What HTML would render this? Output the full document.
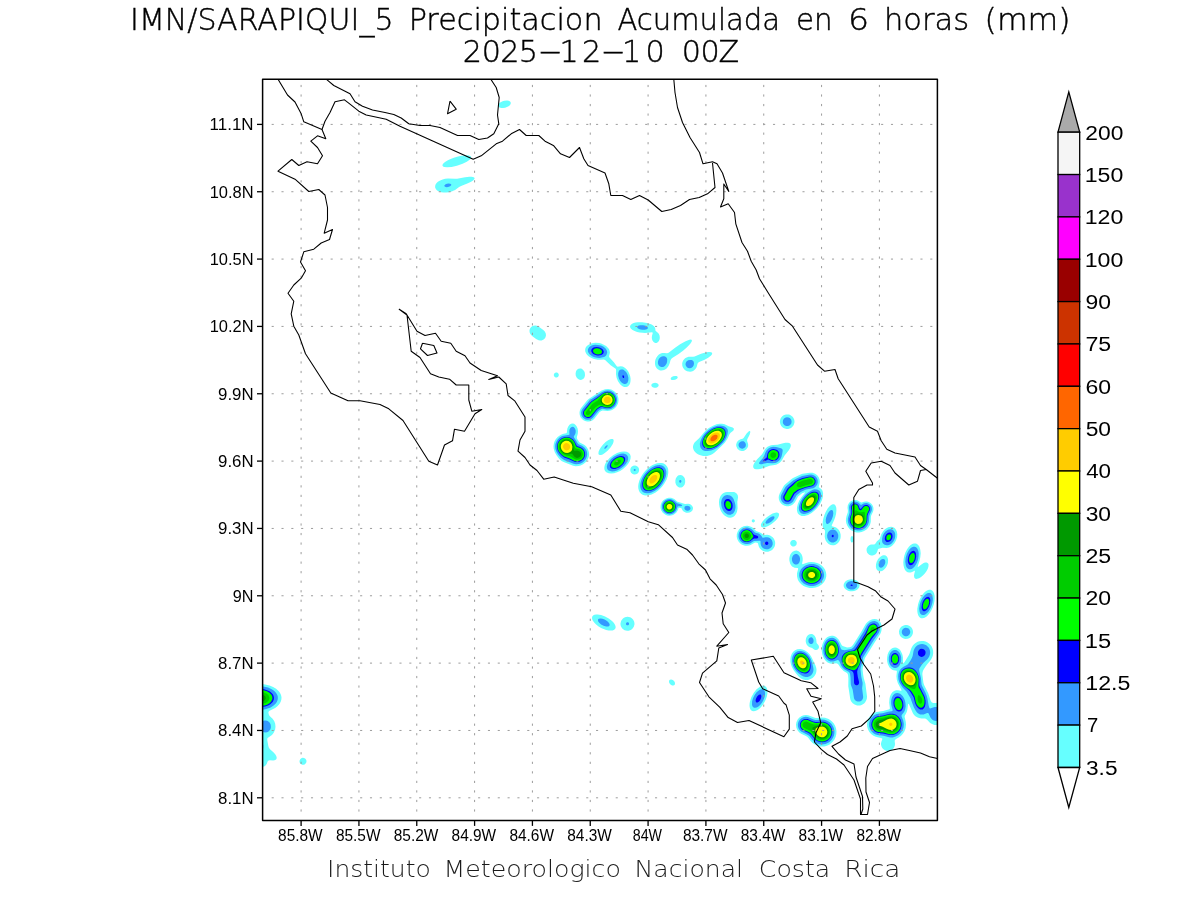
<!DOCTYPE html>
<html><head><meta charset="utf-8"><title>IMN/SARAPIQUI_5 Precipitacion Acumulada en 6 horas (mm)</title>
<style>
html,body{margin:0;padding:0;background:#fff;}
svg{display:block;font-family:"Liberation Sans",sans-serif;will-change:transform;}
.thin{font-family:"DejaVu Sans Light","DejaVu Sans","Liberation Sans",sans-serif;font-weight:200;stroke:#000;stroke-width:0.42px;}
.ti{font-size:30.2px;fill:#000;}
.ft{font-family:"DejaVu Sans Light","DejaVu Sans","Liberation Sans",sans-serif;font-weight:200;font-size:23.2px;fill:#1a1a1a;}
.ax{font-size:16px;fill:#000;}
.cb{font-size:19.4px;fill:#000;}
</style></head><body>
<svg width="1200" height="900" viewBox="0 0 1200 900">
<rect width="1200" height="900" fill="#fff"/>
<defs><clipPath id="fr"><rect x="262.6" y="79.25" width="674.8" height="741.2"/></clipPath></defs>
<g clip-path="url(#fr)">
<g id="shade">
<path fill="#66ffff" d="M504.3,100.8 507.1,100.5 508.6,100.8 509.7,101.2 510.3,101.8 510.8,102.8 510.7,103.8 510.2,104.8 509.3,105.8 508.1,106.6 505.1,107.8 503.1,108.1 501.6,108 500.2,107.8 499.1,107.2 498.6,106.7 498.2,105.8 498.3,104.8 498.8,103.8 499.8,102.8 501.1,101.9 502.6,101.2ZM461.5,155.8 466.1,155.3 469.1,155.6 470.7,156.2 471.1,156.8 471.1,157.8 470.6,158.8 469.6,159.8 466.8,161.8 462.6,163.8 456.9,165.8 451.6,166.9 447.1,167.3 444.1,166.9 443.1,166.5 442.5,165.8 442.5,164.8 443.5,163.2 445.4,161.8 447.9,160.2 451.2,158.8 454.6,157.5 458.1,156.5ZM469.3,176.8 471.6,176.8 473.6,177.2 474.4,177.8 474.6,178.2 474.5,178.8 473.4,180.2 471.1,181.7 467.9,183.2 461.1,185.9 459.1,187 455.1,190 451.6,191.6 449.1,192.2 446.1,192.6 443.6,192.6 441.1,192.2 439.1,191.5 437.1,190.4 436,189.2 435.2,187.8 435.1,186.8 435.3,185.2 435.7,184.2 436.6,183 437.6,182 439.1,181 442.6,179.4 445.1,178.7 448.1,178.4 455.1,178.8 457.1,178.7 465.1,177.2ZM637.7,322.2 642.1,322.2 647.1,322.9 651.1,324.3 652.8,325.2 654,326.2 654.8,327.2 655.2,328.2 655.5,330.8 658.4,333.2 659.1,334.4 659.6,335.7 659.8,337.8 659.6,339.2 659,340.7 658.1,342 656.6,342.9 655.1,342.9 653.6,342.1 652.6,340.8 652,339.2 651.8,337.8 652,335.8 652.7,333.2 652.7,332.8 652.1,332.3 645.1,332.9 642.6,332.8 639.6,332.5 637.1,331.9 634.6,331 632.6,330 631,328.8 630.3,327.8 630,326.8 630.2,325.8 630.9,324.8 632.1,323.8 633.6,323.1 635.6,322.6ZM533.4,325.8 535.6,325.5 537.6,326.1 539.1,326.9 543,329.8 544.6,331.2 545.7,333.2 546,335.2 545.5,337.2 544.9,338.2 544,339.2 543.1,339.8 541.6,340.4 540.1,340.5 538.6,340.2 536.1,338.9 532.1,335.9 530.9,334.8 530.1,333.5 529.6,332.3 529.5,330.8 529.6,329.8 530.2,328.2 531,327.2 532.1,326.3ZM689.4,339.8 691.1,339.6 691.6,339.9 691.9,340.2 691.9,340.8 691.6,341.8 690.3,343.8 687,347.2 683,350.8 678.6,354 672.6,357.8 671.4,358.8 670.5,360.2 669.7,363.2 668.9,365.2 668,366.8 666.6,368.4 665.5,369.2 664.1,370 661.6,370.5 660.1,370.4 659.1,370 657.8,369.2 656.7,368.2 655.7,366.8 655.2,365.2 655,363.8 655,361.8 655.4,359.8 656.3,357.8 657.3,356.2 658.6,354.8 660.1,353.8 662.1,353 664.1,352.9 667.1,353.2 668.6,352.8 675.1,347.7 680.1,344.2 685.6,341.2ZM592.1,343.2 595.6,342.8 599.1,343.1 601.1,343.6 603.1,344.4 606.1,346.1 608.3,348.2 609,349.2 609.6,350.8 609.9,352.8 609,356.2 609.3,357.2 613.9,362.2 616.6,366.1 617.6,366.8 620.6,366.3 622.6,366.5 623.6,366.9 625.1,367.9 627,369.8 628.4,371.8 629.3,373.8 630.2,376.2 630.6,378.8 630.5,381.2 630.1,383.2 629.4,384.8 628.1,386.2 627.1,386.8 626.1,387.1 624.1,386.9 622.1,386 620.1,384.2 618,381.2 616.6,377.8 616,374.2 616.1,369.8 615.7,368.8 610.6,365.3 605.1,359.9 603.6,359.4 600.1,359.7 597.6,359.7 594.1,359 592.1,358.3 590.1,357.3 588.6,356.2 587,354.8 586,353.2 585.2,351.2 585.2,349.2 585.6,347.7 586.6,346.2 588.1,344.9 590.1,343.9ZM706.4,352.2 709.1,352 711.1,352.2 712,352.8 712.2,353.8 711.7,354.8 710.8,355.8 708.2,357.8 704.6,359.8 699.1,362 698.1,362.8 697.5,363.8 696.9,366.2 696.3,367.8 695.2,369.2 694.1,370.3 693.1,370.9 691.6,371.5 690.1,371.7 688.6,371.6 687.1,371.2 685.6,370.5 684.6,369.7 683.6,368.6 682.8,367.2 682.3,365.8 682.2,363.2 682.6,361.8 683.3,360.2 685.1,358.2 686.6,357.4 688.6,356.7 693.1,356.7 694.6,356.4 701.1,353.7ZM578.4,368.8 580.1,368.4 581.1,368.6 582.1,369 583.6,370.4 584.2,371.2 584.8,372.8 585,375.2 584.5,377.2 583.9,378.2 583.1,379.1 581.6,379.8 580.6,380 579.6,379.8 578.1,379.1 576.8,377.8 575.8,375.8 575.6,373.8 575.9,371.8 576.3,370.8 577,369.8ZM555.2,372.8 556.1,372.5 557.1,372.6 558.1,373.2 558.6,374 558.8,374.8 558.7,375.8 558.1,376.7 557.4,377.2 556.6,377.5 555.6,377.4 554.6,376.8 554.1,376.2 553.8,375.2 553.9,374.2 554.5,373.2ZM673.1,376.2 675.1,375.9 676.6,376 677.6,376.8 677.7,377.8 677,378.8 675.1,379.8 673.1,380.1 671.6,379.9 670.8,379.2 670.7,378.2 671.4,377.2ZM652.9,383.2 654.1,382.9 655.1,382.8 657.1,383.2 658.1,384 658.6,384.8 658.6,385.8 658.4,386.2 657.3,387.2 656.1,387.7 654.3,387.8 652.7,387.2 651.6,386.2 651.3,385.2 651.6,384.2ZM605.1,389.2 608.1,389 611.1,389.6 612.6,390.2 614.1,391.2 615.4,392.2 616.6,393.8 617.5,395.2 618,396.8 618.4,398.2 618.5,400.2 618.3,402.2 617.9,403.8 616.6,406.2 615.3,407.8 614.1,408.8 612.1,410 610.6,410.6 607.6,411 602.6,410.5 600.8,411.2 599.6,412.1 594.1,418.9 592.6,420.2 591.1,420.9 589.1,421.4 587.1,421.5 585.1,421 583.1,420 582.1,419.1 580.9,417.8 580.1,416.2 579.7,414.7 579.5,412.8 579.7,411.2 580.1,409.8 580.9,408.2 587.3,400.2 588.6,398.9 596.6,393.7 601.6,390.6 603.1,389.9ZM785,414.8 786.1,414.5 787.6,414.4 789.1,414.6 790.6,415.2 792.6,416.8 793.3,417.8 794.1,419.2 794.4,420.8 794.5,422.2 793.8,424.8 793.1,426 792.1,427.1 791.1,427.9 789.6,428.6 788.1,428.9 786.6,429 784.1,428.3 783.1,427.7 781.9,426.8 781.1,425.7 780.4,424.2 780,422.8 779.9,421.2 780.2,419.8 780.6,418.6 781.4,417.2 782.3,416.2 783.6,415.3ZM571.1,423.8 572.6,423.5 574.1,423.8 575.6,424.9 576.6,426.2 577.7,428.8 578,431.2 577.8,433.8 576.8,437.2 577.1,438.8 579.3,442.2 580.1,442.8 583.6,444.4 585.1,445.5 586.4,446.8 588,449.2 588.9,452.2 589.1,454.7 588.8,456.8 587.8,459.2 586.6,461.2 585.1,462.8 583.1,464.3 580.6,465.5 578.6,466 575.6,466.2 573.1,465.7 563.6,462.1 561.6,461 559.1,458.7 556.5,455.2 554.8,452.2 553.7,448.8 553.5,446.2 553.8,443.7 554.4,441.8 555.7,439.2 557.6,437 560.1,435.2 562.6,434.1 566.1,433.3 566.6,432.9 566.9,432.2 567.3,428.8 568.1,426.8 569.5,424.8ZM719.7,423.8 722.1,423.7 724.6,424.3 728.6,426.2 732.6,427.5 733.6,428.2 733.9,428.8 733.8,429.8 733.2,430.8 730.6,432.7 729.6,433.9 727.5,438.8 724.8,442.8 721.6,446.1 714.6,452.6 712.6,454 710.6,455 707.1,455.9 705.1,456 703.1,455.9 699.6,455 697.9,454.2 696.4,453.2 695.1,452.1 694.1,450.8 693.4,449.2 693,447.8 693,446.2 693.4,444.8 694.1,443.2 694.8,442.2 699.1,438.3 704.6,431.8 708.1,428.6 710.6,426.9 713.6,425.4 716.6,424.3ZM748.9,431.2 749.6,430.9 750.1,431 750.3,432.2 749.6,434.8 747.3,439.2 747.1,440.2 747.2,441.2 747.9,443.2 748.2,444.8 748.1,446.2 747.5,447.8 746.1,449.6 744.1,450.7 743.1,450.9 741.6,451 739.6,450.4 738.6,449.8 737.6,448.9 736.5,446.8 736.2,445.8 736.2,444.2 736.9,442.2 738,440.8 739.1,439.9 740.6,439.2 742.6,438.7 743.6,438.1 746.6,433.6 747.6,432.4ZM610.2,439.2 611.6,438.9 612.6,439 613.1,439.3 613.5,439.8 613.7,440.8 613.4,442.2 612.9,443.8 610.7,447.2 607.6,450.8 604.1,453.6 602.6,454.4 601.1,455 600.1,455.1 598.9,454.8 598.4,453.8 598.6,451.8 599.4,449.8 600.9,447.2 603.1,444.5 605.6,442.1 608.1,440.3ZM785.4,442.8 788.1,442.8 789.1,443 790.1,443.6 790.8,444.8 790.8,445.8 790.6,446.8 790,448.2 788.8,450.2 784.6,455.4 781.9,460.2 780.7,461.8 779.6,462.8 778.1,463.8 776.1,464.7 774.6,465 769.6,465.7 763.6,468 760.1,469 758.1,469.3 756.1,469.3 754.6,468.9 753.8,468.2 753.2,467.2 753.2,465.8 753.7,464.2 754.5,462.8 757.2,459.2 762.1,454.2 765,449.2 767.1,447.1 769.1,445.9 771.1,445.2 773.1,444.9 777.6,444.7 783.1,443.2ZM621.1,451.8 624.1,451.4 626.6,451.8 628.6,452.7 630,454.2 630.7,456.2 630.5,458.8 629.7,461.2 628.2,463.8 626.1,466.3 623.1,468.9 620.1,470.9 617.1,472.3 614.1,473.2 611.1,473.6 608.6,473.3 606.3,472.2 605.3,471.2 604.7,470.2 604.4,469.2 604.3,467.8 604.5,466.2 604.9,464.8 605.8,462.8 606.8,461.2 609.6,458 613.1,455.2 617.1,453ZM657.2,463.2 660.1,462.9 661.6,463 663.1,463.3 664.6,464 665.6,464.7 667.2,466.8 667.9,468.2 668.2,469.8 668.3,472.8 667.7,476.2 666.5,479.8 664.2,483.8 662,486.8 659.1,489.7 655.6,492.4 651.6,494.5 648.6,495.3 645.6,495.5 644.1,495.3 642.6,494.7 641.1,493.8 639.7,492.2 638.8,490.2 638.3,488.2 638.2,486.2 638.5,483.8 639.3,480.8 640.3,478.2 641.7,475.7 643.3,473.2 645.4,470.8 647.6,468.6 650.1,466.6 652.6,465 655.1,463.9ZM633.2,465.8 635.1,465.5 636.6,465.9 638.1,467.1 639,468.8 639.1,470.8 638.6,472.2 637.6,473.4 636.1,474.3 634.1,474.5 632.6,474 631.1,472.8 630.4,471.2 630.3,469.2 630.8,467.8 631.6,466.7ZM809.8,472.7 812.6,472.8 815.1,473.7 817.2,475.2 818.7,477.2 819.5,479.2 819.8,481.8 819.5,483.8 818.7,486.8 818.9,487.2 821.5,489.2 822.5,490.8 823.1,493.2 822.9,496.8 821.9,500.2 819.9,504.2 817.3,507.8 814.6,510.6 811.6,513 808.1,515 804.6,516 803.1,516.1 801.6,515.9 799.6,515.1 798.6,514.3 797.8,513.2 797.4,512.2 797,510.8 796.9,509.2 797,507.2 797.9,503.8 799.2,500.8 801.4,497.2 805,492.8 805.1,492.3 802.1,493.3 798.1,496.5 794.9,502.2 793.1,504.2 791.1,505.5 788.6,506.2 786.6,506.3 784.6,505.8 782.6,504.8 781.1,503.5 779.8,501.8 779,499.8 778.7,497.7 778.9,495.8 779.8,493.2 783.9,485.8 785.1,484.5 791.6,479 793.1,478.1 801.1,474.2 802.6,473.8ZM678.9,475.2 680.6,475 681.6,475.2 682.7,475.8 684.1,477.2 684.7,478.2 685.1,479.8 685.2,482.2 684.5,484.8 683.1,486.5 682.1,487.2 681.1,487.5 680.1,487.6 679.1,487.4 677.6,486.6 676.8,485.8 676.1,484.8 675.4,482.8 675.4,480.2 675.9,478.2 677.1,476.5 678.1,475.6ZM725.4,492.2 727.1,492 732.1,491.9 734.1,492.1 735.6,492.7 736.6,493.5 737.5,494.8 737.9,495.8 738,497.8 737.3,501.8 737.6,508.2 737,511.8 736.1,513.8 734.7,515.8 733.1,517 731.6,517.6 730.1,517.8 728.1,517.5 726.1,516.6 724.2,515.2 722.8,513.8 721.4,511.8 720.2,509.2 719.5,506.8 719.1,504.2 719,501.8 719.3,499.2 720,497.2 720.7,495.8 722.1,494 723.6,492.9ZM668.6,497.8 671.1,497.8 673.1,498.4 674.6,499.3 677.1,501.6 678.1,502.1 681.1,502.8 684.1,503.8 685.1,503.9 688.1,503.8 689.6,504.1 690.6,504.6 692,505.8 692.9,507.2 693,508.8 692.5,510.2 691.1,511.7 689.6,512.5 687.6,512.8 686.1,512.7 684.6,512.1 683.3,511.2 682.5,510.2 681.5,508.2 680.6,507.9 679.1,507.8 678.5,508.2 677.5,510.7 676.2,512.8 674.6,514.1 673.1,515 671.1,515.6 669.1,515.7 667.1,515.4 665.1,514.6 662.8,512.8 661.2,510.2 660.7,508.7 660.5,507.2 660.7,504.8 661.7,502.2 662.6,500.9 663.6,499.9 666.1,498.4ZM853.1,500.2 855.1,500 857.1,500.3 858.6,500.9 861.1,502.6 861.6,502.6 864.1,501.7 865.6,501.5 867.1,501.6 868.6,502 870.1,502.7 871.6,504 872.8,505.8 873.3,507.2 873.5,508.7 873.4,510.2 873,511.8 871.1,515.8 870.9,517.2 870.8,521.8 870.3,523.8 869.8,525.2 868.2,527.8 866.6,529.4 864.1,531.1 861.6,532.1 859.1,532.5 856.6,532.4 854.6,531.9 852.1,530.8 850.1,529.4 848.6,527.8 847.3,525.8 846.3,523.2 845.9,520.8 846,518.8 846.5,516.2 847.8,512.2 847.9,510.8 847.5,507.8 847.8,505.2 848.5,503.8 849.6,502.2 851.1,501.1ZM832.7,504.2 833.6,504.2 834.6,504.6 835.6,505.7 836.3,507.8 836.4,510.8 836,514.2 835.2,517.2 834.1,520.2 832,524.8 831.7,525.8 832.1,526.3 834.6,527 836.1,527.6 838.2,529.2 839.3,530.8 840,532.2 840.6,534.2 840.7,536.2 840.5,538.2 840,539.8 839.3,541.2 838.2,542.8 837.1,543.8 835.6,544.7 834.1,545.2 832.6,545.3 830.6,545 828.6,544 827.1,542.6 825.8,540.8 825.1,538.8 824.7,536.8 825.1,530.8 823.6,528.7 823.1,527.8 822.7,526.2 822.6,524.2 822.8,521.2 823.4,518.2 824.5,514.8 825.8,511.8 827.5,508.8 829.1,506.7 831.1,504.9ZM775.2,512.8 776.6,512.6 777.8,512.8 778.7,513.2 779.1,514.2 778.9,515.8 778.3,517.2 777.3,518.8 775.5,520.8 771.6,524 769.1,525.6 767.1,526.5 765.1,527.2 763.6,527.4 762.1,527.2 761.3,526.8 760.9,525.8 760.9,524.8 761.2,523.8 762.4,521.8 764.5,519.2 767.1,516.9 770.1,514.9 772.6,513.6ZM753,519.2 754.1,519.4 754.8,520.2 754.8,521.2 754.6,521.7 753.6,522.4 752.6,522.2 752,521.8 751.8,521.2 751.8,520.2 752.1,519.8ZM743.7,526.2 745.1,525.9 747.1,525.8 748.6,526 750.1,526.4 751.6,527.1 753.1,528.1 756.1,531.1 760.1,532.5 763.6,534.8 764.6,534.9 767.1,534.8 768.6,535 770.1,535.5 771.6,536.4 772.7,537.2 773.9,538.8 774.6,540.2 775.1,541.8 775.2,543.2 775,545.2 774.5,546.8 773.6,548.2 772.1,549.9 770.1,551.1 768.1,551.7 765.6,551.7 763.1,551 761.6,550.1 760.6,549.2 759.8,548.2 758.9,546.8 757.9,543.2 757.1,542.8 755.6,542.6 754.6,542.7 750.6,545 749.1,545.5 747.1,545.8 745.1,545.7 743.6,545.3 742.1,544.7 740.6,543.8 738.7,541.8 737.3,539.2 736.7,536.8 736.8,534.2 737.6,531.8 739.1,529.2 741.1,527.5ZM888.2,527.2 889.6,526.9 891.1,526.8 892.6,527 893.6,527.5 894.6,528.1 895.6,529.2 896.7,531.2 897.3,534.2 897.1,537.2 896.1,540.2 894.4,543.2 892.1,545.7 890.6,546.7 889.1,547.4 886.6,547.9 882.6,547.8 878.6,548.7 878,549.2 877.2,551.8 876.4,553.2 875.5,554.2 874.1,555.1 872.6,555.5 871.1,555.4 869.6,554.9 868.6,554.3 867.2,552.8 866.6,550.8 866.6,548.8 867.6,546.8 868.6,545.7 870.1,544.8 871.6,544.5 874.1,544.5 875.1,544.1 877,541.2 879.1,539.6 879.6,539 881.3,534.2 883.1,531.2 884.4,529.8 885.6,528.7ZM851.4,536.2 852.1,536 852.6,536.2 853.2,537.2 853.6,538.8 853.5,540.2 853.3,541.2 852.7,542.2 852.1,542.6 851.6,542.5 851.1,542 850.5,540.2 850.6,537.8 851,536.8ZM792,540.2 793.1,539.9 794.6,540.1 795.7,540.8 796.5,541.8 796.8,542.8 796.6,544.2 796.1,545.2 795.1,546.1 794.1,546.5 792.6,546.4 791.4,545.8 790.6,544.8 790.2,543.8 790.3,542.2 791.1,540.9ZM912.8,543.8 914.1,543.4 915.6,543.4 916.6,543.8 917.6,544.4 918.6,545.5 919.4,546.8 920.3,549.8 920.7,553.2 920.3,557.2 919.4,561.2 917.6,566.8 918.1,566.9 922.1,564 923.6,563.1 925.1,562.6 926.6,562.6 927.6,562.9 928.3,563.8 928.6,564.8 928.4,566.8 927.8,568.8 926.6,571 925,573.2 923.1,575.3 921.1,577 919.1,578.2 917.1,578.8 916.1,578.9 915.1,578.5 914.6,578.1 914.2,577.2 914,575.2 915,570.8 914.6,570.7 912.1,572 910.6,572.5 909.1,572.6 907.6,572.3 906.1,571.3 904.9,569.8 904.1,567.8 903.5,565.2 903.3,562.2 903.7,558.8 904.3,555.8 905.5,552.2 907.1,549.2 908.9,546.8 910.6,545.1ZM794.8,550.8 796.6,550.6 798.6,551.3 800.1,552.4 801.5,554.2 802.3,556.2 802.7,558.2 802.7,560.2 802.1,563.8 802.6,564.2 806.1,562.9 808.6,562.3 811.1,562 814.1,562.2 817.1,562.9 819.6,564.1 821.9,565.8 823.8,567.8 825.1,569.8 826,572.2 826.3,574.8 826.2,576.8 825.5,579.2 824.5,581.2 823,583.2 821.3,584.8 818.6,586.4 815.6,587.5 812.6,588 809.6,587.9 806.1,587.1 803.6,585.9 801.3,584.2 799.4,582.2 798.4,580.8 797.7,579.2 797,576.2 797,573.2 798.1,569.2 798.1,568.3 797.6,568.1 794.6,567.8 793.1,567.1 792.1,566.4 791.1,565.2 790.2,563.8 789.4,560.8 789.3,558.8 789.5,557.2 789.9,555.8 790.5,554.2 791.6,552.8 792.6,551.8 793.6,551.2ZM881.9,555.8 883.1,555.3 884.6,555.3 885.6,555.6 886.6,556.3 887.3,557.2 887.9,558.8 888.1,560.2 888,562.2 887.7,563.8 886.9,565.8 886.1,567.2 884.9,568.8 883.6,570 882.1,570.9 880.6,571.3 879.6,571.3 878,570.8 877.1,570 876.6,569.2 876.2,568.2 875.9,566.8 876,564.2 876.7,561.8 878.1,559.1 880.1,556.9ZM848.6,579.8 851.1,579.3 853.6,579.5 856.1,580.3 858.1,581.8 859.1,583.2 859.6,585.2 859.2,587.2 858.1,588.8 857.1,589.7 855.6,590.5 854.1,591 852.1,591.3 850.1,591.2 848.6,590.9 847.1,590.3 845.6,589.2 844.6,588.2 843.8,586.8 843.6,585.2 843.9,583.8 844.6,582.4 845.6,581.3 847.1,580.3ZM929,589.8 930.6,589.8 932.1,590.4 933.3,591.8 934.1,593.5 934.6,595.8 934.7,598.2 934.4,601.2 933.8,604.2 932.8,607.2 931.4,610.2 929.9,612.8 928.1,615 926.6,616.5 924.6,617.7 922.6,618.3 921.1,618.2 920.1,617.7 919.1,616.8 918.2,615.2 917.6,613.2 917.3,611.2 917.3,608.8 918.2,603.8 919.2,600.8 920.3,598.2 922.8,594.2 924.6,592.3 926.1,591 927.6,590.2ZM594.5,614.8 596.1,614.5 597.6,614.4 601.1,615 605.1,616.5 609.1,618.7 612.3,621.2 613.7,622.8 614.7,624.2 615.4,625.8 615.6,626.8 615.6,627.8 615.2,628.8 614.2,629.8 612.6,630.4 610.6,630.6 608.6,630.4 606.1,629.9 603.6,629 601.1,627.9 598.6,626.4 596.4,624.8 594.4,622.8 592.9,620.8 592.2,619.2 592,617.8 592.4,616.2 593.4,615.2ZM625,617.2 626.1,616.9 627.6,616.8 630.1,617.3 631.1,617.8 632.3,618.8 633.2,619.8 634,621.2 634.4,622.8 634.5,624.2 633.8,626.8 632.4,628.8 631.2,629.8 630.1,630.3 628.6,630.7 627.1,630.8 624.6,630.2 622.5,628.8 621.6,627.6 620.9,626.2 620.5,624.8 620.5,623.2 621.2,620.8 622.7,618.8 623.6,618ZM872.4,619.2 874.6,618.9 876.6,619.2 878.1,619.9 879.7,621.2 880.9,623.2 881.5,625.2 881.7,627.8 881.5,630.2 881,632.3 880.1,634.2 875.1,641.7 865.1,657.8 864.5,659.2 863.9,663.8 862.8,667.2 862.6,669.8 863.2,674.8 863.8,678.2 865.4,683.8 867,696.2 866.9,698.2 866.5,699.8 865.2,702.2 864.1,703.4 862.9,704.2 861.6,704.9 860.1,705.4 858.6,705.5 857.1,705.4 854.6,704.6 852.7,703.2 851.1,701.2 850.3,699.2 848.3,686.2 848.4,678.8 848.1,675.2 847.6,673.8 846.6,672.8 843.6,670.9 842.1,669.6 840.5,667.8 838.6,664.8 837.6,663.8 836.1,663.3 832.1,663.7 830.1,663.5 827.6,662.5 825.6,660.8 823.8,658.2 822.4,654.8 821.7,650.8 821.9,646.8 822.3,644.8 823.2,642.2 824.3,640.2 825.5,638.8 827.1,637.3 828.6,636.4 830.1,635.9 831.6,635.7 833.1,635.8 834.6,636.3 836.1,637.1 837.1,637.9 838.4,639.2 839.4,640.8 841.6,645.1 842.6,645.9 845.6,647 847.1,647.4 849.6,647.3 851.1,646.8 852.1,646 853.6,643.9 861.6,631.3 865.9,623.8 867.3,622.2 869.1,620.8 870.6,619.9ZM904.2,625.2 905.6,625 907.1,625.1 908.6,625.5 909.6,626 910.6,626.8 911.6,627.8 912.2,628.8 912.8,630.2 913,631.8 912.9,633.2 912.4,634.8 911.9,635.8 911.1,636.8 910.1,637.7 909.1,638.3 907.6,638.8 905.1,638.9 903.6,638.6 902.6,638.1 901.4,637.2 900.4,636.2 899.8,635.2 899.2,633.8 899,631.2 899.4,629.8 899.8,628.8 900.6,627.5 901.6,626.6 902.6,625.9ZM809.6,634.2 811.1,634 812.1,634.1 813.1,634.5 814.6,635.8 815.5,637.2 816.2,639.2 816.6,643.1 818.5,645.2 819,646.8 818.9,647.8 818.6,648.5 818,649.2 817.2,649.8 816.1,650 815.1,649.9 814.1,649.4 812.1,648 809.1,647 807.6,645.8 806.5,644.2 806,642.8 805.7,641.2 805.8,639.8 806.1,638.2 806.7,636.8 807.4,635.8 808.6,634.8ZM919.4,641.2 921.6,641 923.6,641.1 925.6,641.6 927.6,642.5 929.3,643.8 930.8,645.2 931.8,646.8 932.6,648.8 933.1,650.8 933.2,653.2 932.8,655.8 932,657.8 930.6,660.3 927.2,664.2 925.4,666.8 923.2,670.2 922.7,671.8 922.4,673.2 922.4,674.8 923.4,682.8 924.1,684.9 928.2,693.2 930.6,700.4 931.6,702.2 932.1,702.6 933.1,702.9 937.1,703 939.6,703.7 942.1,705.3 943.1,706.3 944.2,707.8 945.4,710.2 945.9,712.8 945.9,715.2 945.4,717.8 944.5,719.8 943.5,721.2 942.1,722.8 940.1,724 938.6,724.6 936.6,725 934.6,724.9 932.6,724.3 931.1,723.6 929.9,722.8 927.1,719.7 926.1,718.9 925.1,718.6 921.6,718.6 919.1,718.1 917.1,717.3 915.1,715.9 913.9,714.8 912.9,713.2 909.1,704.6 908.6,703.8 908.1,703.9 907.5,708.8 907.1,710.8 906.4,712.8 904.8,715.8 904.6,716.8 905.8,721.8 906,724.8 905.6,728.2 904.5,731.2 902.9,733.8 901.1,735.8 899.1,737.3 895.7,739.2 894.8,740.2 894.7,741.2 895,743.8 894.9,745.2 894.2,747.2 893.1,748.8 891.6,750 889.8,750.8 888.1,751 886.1,750.7 884.6,750.1 883.1,749 882.1,747.8 881.4,746.2 881,744.8 881,743.2 881.4,741.8 882.3,739.2 882.3,738.8 882.1,738.4 881.1,737.9 877.6,737.3 875.1,736.6 873.1,735.5 871.1,734 869.2,731.8 867.9,729.2 867.2,726.8 867,724.2 867.4,721.2 868.6,718.2 870.4,715.8 872.6,713.8 874.6,712.7 876.6,711.9 883.1,711 888.6,709.5 889.6,709 889.9,708.2 889.2,702.8 889.5,698.8 889.9,696.8 890.7,694.8 891.6,693.2 892.6,692 894.1,690.9 896.1,690.2 898.1,690.2 900.6,690.8 901.4,690.8 901.5,690.2 901.1,689.2 897.9,683.2 896.8,679.8 896.4,676.2 896.9,671.2 896.6,670.7 893.6,670.3 892.6,670 891.1,669 889.4,667.2 887.9,664.2 887.2,661.8 887,659.2 887.2,656.8 887.7,654.2 888.5,652.2 889.4,650.8 890.6,649.4 892.1,648.3 893.6,647.7 895.1,647.5 896.6,647.7 898.1,648.4 899.6,649.6 900.6,650.8 902.1,653.8 902.7,655.8 903,657.8 903.1,663.2 903.6,663.3 904.6,662.1 908.6,655.6 909.6,653.4 911.3,648.2 912.7,645.8 914,644.2 915.6,642.9 917.6,641.8ZM797.3,649.2 800.1,648.9 802.6,649.4 805.1,650.4 807.6,652.2 809.6,654.2 811.3,656.8 815.4,665.2 816.1,667.2 816.5,669.2 816.4,671.2 816,673.2 815,675.2 813.9,676.8 812.6,677.9 810.6,679.1 808.1,679.9 805.6,680 803.1,679.4 801.1,678.5 798.9,676.8 796.1,673.5 793.7,670.2 792,667.2 790.9,664.2 790.4,661.8 790.4,658.8 790.8,656.2 791.8,653.8 793.2,651.8 795.1,650.2ZM669.9,679.8 671.1,679.5 672.1,679.7 673.2,680.2 674.2,681.2 674.8,682.2 675,683.8 674.7,684.8 674.1,685.2 673.1,685.5 672.1,685.4 670.8,684.8 669.8,683.8 669.1,682.4 669,681.2 669.3,680.2ZM256,684.2 260.6,684 265.1,684.4 269.6,685.5 273.1,686.9 276.1,688.8 278.8,691.2 279.9,692.8 280.7,694.2 281.2,695.8 281.5,697.2 281.4,699.2 280.9,701.2 279.9,703.2 278.8,704.8 277.1,706.5 275.1,708 269.1,711.1 268.6,711.8 268.4,712.2 268.6,713.7 269.1,715.2 269.9,716.2 272.6,718.8 274.3,721.2 275.2,723.8 275.5,726.8 275.1,729.8 273.7,732.8 272.6,734.2 271.6,735.2 267.6,738.1 267.3,738.8 267.3,740.2 268.4,746.2 268.9,747.8 270,749.2 273.4,752.2 275.2,754.2 276.1,755.8 276.5,756.8 276.7,757.8 276.6,758.5 276.1,759.4 274.6,760.2 273.1,760.4 269.6,760.3 268.2,760.8 267.6,761.6 266.8,763.8 265.8,765.2 264.6,766.3 262.6,767 261.1,766.9 259.6,766.4 258.6,765.7 257.6,764.4 257.1,762.8 257,761.2 257.4,759.8 258.3,757.8 258.3,756.8 257.6,755.8 255.1,753.6 253.5,751.8 252.2,749.2 251.5,746.8 251.6,743.8 252.6,740.8 253.7,738.8 256.7,735.2 257.1,734.2 257,733.2 255.7,728.8 255.5,726.2 255.7,724.2 256.1,722.8 258,718.2 258.1,716.8 257.5,713.2 257.1,712.6 256.1,712 250.6,710.6 247.6,709.4 245.1,708.1 242.6,706.2 242.6,689.8 245.1,687.9 248.6,686.1 252.1,685ZM762.7,685.8 764.1,685.8 765.6,686.5 766.6,687.7 767.2,689.2 767.5,691.2 767.4,693.8 766.9,696.2 765.9,699.2 764.4,702.2 762.9,704.8 761.1,707 759.1,708.9 757.1,710.3 755.1,711.1 753.6,711.3 752.1,710.9 751.1,710.3 750.3,709.2 749.8,707.8 749.5,705.8 749.6,703.8 749.9,701.8 751.3,697.2 753.8,692.8 756.6,689.3 759.6,686.9 761.1,686.1ZM803.8,715.2 806.1,715 808.1,715.2 809.6,715.7 814.1,717.6 815.6,718 817.1,718 821.6,717.5 825.1,717.8 828.6,719.1 830.1,720 831.7,721.2 833.6,723.2 835.1,725.7 836,728.2 836.5,731.2 836.3,734.2 835.7,736.8 834.6,739.2 832.7,741.8 831.1,743.2 829.6,744.4 828.1,745.2 826.1,745.9 824.1,746.4 822.1,746.5 820.1,746.4 818.1,746 815.1,744.8 812.6,743 810.8,741.2 808.6,738.2 807.2,736.8 805.5,735.8 801.1,733.7 799.1,732.2 797.5,730.2 796.4,727.8 796,724.8 796.4,722.2 797.5,719.8 799.1,717.8 801.6,716ZM301.3,758.2 302.6,757.8 304.1,758 305.4,758.8 306.1,759.8 306.5,760.8 306.4,762.2 305.6,763.6 304.6,764.4 303.6,764.7 302.1,764.7 300.6,763.8 299.8,762.8 299.5,761.8 299.7,760.2 300.2,759.2Z"/>
<path fill="#3399ff" d="M446.9,183.8 448.6,183.6 450.1,183.8 451.1,184.2 451.3,184.8 451.2,185.2 450.1,186.3 448.1,187 446.6,187.2 445,186.8 444.5,186.2 444.4,185.8 444.5,185.2 445.6,184.2ZM640.1,325.2 643.1,325.2 645.6,325.8 647.3,326.8 647.7,327.2 647.9,327.8 647.9,328.2 647.5,328.8 646.8,329.2 644.9,329.8 642.1,329.8 639.6,329.2 637.7,328.2 637.3,327.8 637.1,327 637.5,326.2 638.1,325.8ZM595.2,344.8 598.1,344.9 601.1,345.6 603.6,346.8 605.6,348.5 606.7,350.2 607.2,352.2 606.7,354.2 606.1,355.4 605.3,356.2 604.1,356.9 601.6,357.6 599.6,357.9 597.1,357.8 594.6,357.2 592.6,356.4 591.1,355.6 589.6,354.2 588.5,352.8 587.9,351.2 587.9,349.8 588.4,348.2 589.6,346.8 591.1,345.8 593.1,345.1ZM663,356.2 664.1,356.3 665.1,356.6 666.1,357.2 666.7,357.8 667.2,359.2 667.1,361.8 666.5,363.8 665.1,365.8 664.1,366.5 663.1,366.9 662.1,367.1 661.1,367 659.6,366.3 658.6,365.2 657.9,363.2 658,361.2 658.7,359.2 659.8,357.8 661.2,356.8ZM688.2,360.2 690.1,359.9 691.6,360 693,360.8 693.7,361.8 694,363.8 693.5,365.7 692.6,367.1 691.1,368.1 689.6,368.3 688.1,368 686.9,367.2 685.9,365.8 685.5,364.2 685.8,362.8 686.7,361.2ZM620.2,369.8 621.1,369.4 622.1,369.4 623.1,369.6 624.1,370.2 626.1,372.1 627.6,374.7 628.4,377.8 628.3,380.2 627.6,382.4 626.9,383.2 626.1,383.8 625.1,384 624.1,383.9 623.1,383.6 622.1,383 620.4,381.2 619,378.8 618.2,375.7 618.2,373.2 618.8,371.2 619.5,370.2ZM605,390.8 606.6,390.4 608.1,390.4 609.6,390.6 611.1,391.1 613.6,392.6 615.5,394.8 616.7,397.2 617,398.8 617.1,400.3 616.9,401.8 616.5,403.2 615.2,405.8 614.1,406.9 612.6,408.1 611.1,408.9 609.6,409.3 606.6,409.5 602.6,408.8 601.6,409 600.6,409.5 598.6,410.7 592.9,417.8 591.7,418.8 590.6,419.3 588.6,419.8 587.1,419.8 585.6,419.4 584.1,418.6 583.1,417.8 582.3,416.8 581.7,415.8 581.3,414.2 581.1,412.8 581.4,411.2 582,409.8 582.6,408.8 589.6,400.2 602.1,392ZM786.9,417.2 788.6,417.5 790.1,418.3 791.2,419.8 791.6,421.2 791.4,423.2 790.6,424.6 789.1,425.7 787.6,426.1 786.1,426 784.5,425.2 783.2,423.8 782.8,422.2 783,420.2 783.8,418.8 785.1,417.8ZM717.3,425.8 720.6,425.4 723.1,425.9 724.6,426.5 725.7,427.2 726.8,428.2 727.5,429.3 727.8,430.2 727.9,431.2 727.5,434.2 726.5,437.2 725.2,439.8 723.4,442.2 720.6,445.1 717.6,447.4 714.1,449.4 711.1,450.5 707.6,451.1 705.1,450.9 703.6,450.4 702.6,449.9 701.3,448.8 700.6,447.8 700.1,446.2 699.9,444.8 699.9,443.2 700.4,441.2 701.4,438.8 702.5,436.8 703.8,434.8 705.5,432.8 709.1,429.6 713.1,427.2 715.1,426.4ZM571.2,427.2 572.6,426.8 573.6,427.1 574.6,428 575.3,429.2 575.7,430.8 575.6,432.8 575.1,434.2 573.9,436.2 573.8,436.8 574.2,437.8 576.2,440.8 577.6,443.3 578.6,444.3 582.1,445.8 584.2,447.2 585.8,449.2 586.6,450.8 587,452.2 587.2,454.2 586.9,456.2 586.2,458.2 585.3,459.8 584.1,461.2 582.6,462.4 580.6,463.4 578.6,464 576.1,464.2 573.6,463.7 564.6,460.2 562.6,459.1 560.4,457.2 557.9,454.2 556.4,451.8 555.4,448.8 555.2,446.2 555.4,444.2 556.3,441.8 557.5,439.8 559.6,437.6 562.1,436.1 564.6,435.4 568.1,435.1 569.3,434.8 569.5,434.2 569.3,431.8 569.5,429.8 570.2,428.2ZM741.9,441.2 743.6,441.3 744.6,441.9 745.5,443.2 745.9,444.8 745.7,446.2 745.1,447.3 744.1,448.1 742.6,448.7 741.1,448.5 739.7,447.8 739,446.8 738.5,445.2 738.7,443.8 739.3,442.8 740.5,441.8ZM607,445.2 607.6,445.2 607.7,445.8 607.1,447 605.6,448.5 605.1,448.8 604.4,448.8 604.3,448.2 604.5,447.8 605.1,446.8 606.1,445.7ZM770.9,447.2 773.1,446.8 776.1,447 780.9,448.2 781.9,448.8 782.4,449.2 782.7,450.8 782.2,453.8 781.5,456.8 780.3,459.2 779.1,460.7 778.1,461.5 776.6,462.4 775.1,463 772.6,463.3 767.1,463 761.6,464.2 760.6,464.3 759.6,464.1 759.2,463.8 759.1,463.3 759.4,462.2 760.5,460.8 763.7,457.2 765.3,452.8 766.3,450.8 768.1,448.8 769.6,447.8ZM620.8,453.8 623.1,453.6 625.1,453.9 626.6,454.7 627.6,455.9 628.1,457.2 628.1,459.2 627.4,461.2 626,463.8 624.3,465.8 622.1,467.6 619.6,469.3 617.1,470.4 614.6,471.2 612.1,471.4 610.1,471.1 608.6,470.4 607.8,469.8 607.2,468.8 606.8,466.8 607.4,464.2 609,461.2 611.3,458.8 614.1,456.5 617.6,454.7ZM657.2,465.2 659.6,465 662.1,465.5 664.1,466.8 665.5,468.8 666.3,471.2 666.3,473.8 665.8,476.8 664.4,480.2 662.7,483.2 660.4,486.2 657.6,489 654.6,491.1 651.6,492.5 649.1,493.2 646.6,493.3 644.1,492.7 642.6,491.7 641.6,490.6 640.9,489.2 640.3,487.2 640.2,485.2 640.5,483.2 641.1,480.8 642.1,478.2 643.5,475.8 644.9,473.8 646.6,471.7 648.6,469.8 650.6,468.2 652.6,467 655.1,465.8ZM634,469.2 634.6,469 635.4,469.2 635.7,469.8 635.7,470.2 635.4,470.8 634.6,471 634,470.8 633.7,470.2 633.7,469.8ZM808.7,474.8 811.1,474.5 813.1,474.9 815.1,476 816.7,477.8 817.6,479.8 817.8,482.2 817.3,484.2 816,486.2 814.6,487.5 813.1,488.3 806.1,489.5 800.6,492 796.6,495.2 793.1,501.4 792.1,502.5 790.6,503.6 788.6,504.2 786.6,504.3 784.6,503.7 783.1,502.7 781.8,501.2 781.1,499.8 780.7,498.2 780.8,496.2 781.5,494.2 785,487.8 786.1,486.3 793.1,480.4 796.6,478.4 802.1,475.9ZM679.5,480.2 680.1,479.9 680.6,479.9 681.1,480.3 681.3,480.8 681.4,481.8 681.1,482.3 680.6,482.7 680.1,482.7 679.6,482.4 679.2,481.8 679.2,481.2ZM812.8,489.8 814.6,489.3 817.1,489.5 819.1,490.4 820.3,491.8 821,493.8 821.1,496.2 820.7,498.8 819.5,501.8 817.8,504.8 815.9,507.2 813.6,509.6 811.1,511.5 808.1,513.1 805.6,513.8 803.6,513.9 801.6,513.4 800.6,512.7 799.8,511.8 799.1,510.3 798.8,508.8 798.8,507.2 799.2,505.2 800.4,501.8 802.8,497.8 805.6,494.6 807.6,492.8 809.6,491.4ZM725.9,495.2 727.1,495.1 728.6,495.2 730.1,495.6 731.6,496.5 732.8,497.8 733.6,499 734.9,502.8 735.4,505.2 735.5,507.2 735.2,509.2 734.8,510.8 734,512.2 733.1,513.4 732.1,514.1 730.6,514.7 729.1,514.8 727.6,514.4 726.1,513.6 725.1,512.8 723.7,511.2 722.8,509.8 721.9,507.8 721.5,506.2 721.1,502.7 721.4,500.8 721.8,499.2 722.6,497.8 723.6,496.5 724.6,495.8ZM667.7,499.2 670.1,499 672.6,499.7 674.3,500.8 677.1,503.3 680.6,504.3 681.6,504.7 682.1,505.2 682.1,505.8 681.1,506.2 678.6,506.2 677.6,506.6 676.7,509.2 676,510.8 674.8,512.2 673.1,513.5 671.6,514.1 669.6,514.4 667.6,514.1 666.1,513.6 664.1,512.1 662.7,510.2 662,508.2 661.9,505.8 662.4,503.8 663.6,501.8 665.6,500.1ZM853.6,501.8 855.1,501.6 857.1,502 858.6,502.8 860.6,504.7 861.1,504.9 863.6,503.6 864.6,503.2 866.6,503.1 868.1,503.5 869.5,504.3 870.6,505.2 871.3,506.2 871.8,507.8 871.9,509.2 871.7,510.8 869.7,514.8 869.3,516.2 868.9,521.8 867.9,524.8 866.6,526.8 865.1,528.3 863.1,529.6 861.1,530.3 859.1,530.6 857.1,530.6 855.1,530.1 853.1,529.2 851.1,527.8 849.8,526.2 848.9,524.8 848.1,522.8 847.8,520.8 847.9,518.2 849.3,513.8 849.6,512.2 849.1,507.8 849.3,505.8 850,504.2 850.9,503.2 852.1,502.3ZM685.2,506.2 687.1,505.8 688.1,505.9 689.2,506.2 689.8,506.8 690.4,507.8 690.5,508.8 690.3,509.2 689.3,510.2 688.1,510.7 687.1,510.7 685.7,510.2 684.7,509.3 684.4,508.2 684.6,506.8ZM830.6,510.2 831.6,510 832.1,510.1 832.6,510.5 833,511.2 833.3,513.2 832.9,516.2 831.6,519.8 830.1,522.2 828.6,523.6 827.6,524 827.1,524 826.6,523.7 826.2,523.2 825.8,521.8 825.8,519.8 826.1,517.8 827,515.2 828.1,513 829.6,511ZM771.4,516.8 773.1,516.3 774.1,516.5 774.4,516.8 774.5,517.8 774.1,518.8 773.3,519.8 771.2,521.8 768.6,523.2 766.6,523.7 765.6,523.3 765.5,522.2 766.7,520.2 768.8,518.2ZM744.8,527.8 746.1,527.5 747.6,527.6 749.1,527.9 750.6,528.5 752.4,529.8 754.7,532.2 755.6,532.7 758.6,533.6 760.1,534.5 761.3,535.8 762.6,537.7 763.1,537.8 765.6,537.3 767.1,537.3 768.6,537.6 770.1,538.3 771.1,539.2 771.9,540.2 772.6,542.2 772.7,543.8 772.6,544.8 771.7,546.8 770.1,548.3 768.1,549.2 766.1,549.3 764.1,548.8 762.6,547.7 761.4,546.2 760.7,544.2 760.5,541.2 760.1,540.8 754.1,541.1 753.1,541.5 750.1,543.4 747.6,544 746.1,544.1 744.6,543.8 742.1,542.7 740.1,540.8 739,538.8 738.5,536.8 738.6,534.2 739.2,532.2 740.6,530.2 742.6,528.6ZM831,529.8 833.1,529.5 834.1,529.7 835.4,530.2 837.1,531.9 838.1,534.2 838.3,535.8 838.2,537.2 837.8,538.8 837.3,539.8 836.6,540.8 835.6,541.6 833.6,542.5 831.6,542.4 829.6,541.5 828.1,539.8 827.3,537.8 827.1,535.2 827.8,532.8 829.1,530.9ZM888,529.8 889.1,529.4 890.6,529.3 892.1,529.6 893.2,530.2 894.1,531.3 894.9,532.8 895.2,534.2 895.2,536.2 894.9,538.2 894.3,539.8 893.5,541.2 892.3,542.8 891.1,543.9 889.6,544.8 888.1,545.3 886.6,545.3 884.6,544.8 883.6,544.1 882.8,543.2 882.3,542.2 882.1,541.2 882.1,538.8 882.7,535.8 884,533.2 885.7,531.2ZM913.4,546.8 914.6,546.7 916.1,547.3 917.1,548.3 917.9,549.8 918.5,551.8 918.7,553.8 918.6,555.8 918.3,558.2 917.8,560.2 916.9,562.8 915.8,564.8 914.6,566.5 913.1,568 911.6,568.9 910.1,569.3 909.1,569.2 908.1,568.8 907.1,568 906.3,566.8 905.8,565.2 905.3,561.8 905.7,557.8 906.9,553.8 908.8,550.2 910.1,548.8 911.1,547.8 912.1,547.2ZM794.7,554.2 795.6,554 796.6,554 798.1,554.7 799.4,556.2 800,558.2 800,560.2 799.4,562.2 798.1,563.9 796.6,564.6 795.1,564.5 793.8,563.8 792.6,562.3 792.1,560.8 791.9,558.8 792.4,556.8 793.3,555.2ZM881.8,559.2 883.1,558.9 884.1,559.2 884.6,559.6 885.2,560.8 885.3,562.8 884.6,564.8 883.6,566.3 882.1,567.4 880.6,567.7 879.6,567.2 878.9,566.2 878.7,565.2 878.7,563.8 879.1,562.4 879.7,561.2 880.6,560.1ZM809,564.2 811.1,564 813.6,564.1 815.6,564.6 818.1,565.6 820.1,567 821.6,568.5 822.8,570.2 823.6,572.2 824,574.2 824,576.2 823.5,578.2 822.5,580.2 821.1,582.1 819.6,583.4 817.6,584.6 815.6,585.4 813.1,585.9 810.6,586 808.1,585.6 805.6,584.6 803.6,583.4 801.8,581.8 800.4,579.8 799.6,577.8 799.2,575.8 799.3,573.2 799.9,571.2 801,569.2 802.6,567.4 804.6,565.9 806.6,564.9ZM850,581.2 851.6,581.1 853.6,581.4 855.1,582 856.5,583.2 857.1,584.2 857.2,585.8 856.6,587.2 855.6,588.2 854.6,588.9 853.1,589.4 850.6,589.5 848.4,588.8 847.6,588.2 846.6,587.2 846,585.8 846,584.8 846.4,583.8 847.7,582.2 848.6,581.7ZM927.2,593.2 928.6,592.9 930.1,593.1 931.1,593.7 931.9,594.8 932.4,596.2 932.8,598.2 932.8,600.2 932.4,602.8 931.7,605.2 930.8,607.8 929.7,609.8 928.4,611.8 927.1,613.1 925.6,614.3 924.1,615 922.6,615.1 921.6,614.8 920.6,613.9 920.1,613.2 919.6,611.8 919.2,608.8 919.7,604.8 920.8,601.2 922.6,597.7 924.6,595.2 926.1,593.9ZM598.8,618.8 600.6,618.5 602.4,618.8 604.6,619.5 606.6,620.7 607.9,621.8 609.2,623.2 609.7,624.8 609.4,625.8 608.8,626.2 608.1,626.5 606.1,626.4 603.6,625.7 601.1,624.4 599.2,622.8 598.1,621.2 597.9,619.8 598.2,619.2ZM872.6,621.2 874.6,621.1 876.1,621.4 877.6,622.2 878.6,623.3 879.4,624.8 879.8,626.2 880,628.2 879.8,630.2 879.3,631.8 878.6,633.2 873.6,640.5 865.1,653.9 862.9,657.8 862.3,662.8 860.8,667.2 860.5,669.8 861.3,676.8 862.6,682.8 862.6,684.2 862.1,688.2 863.1,696.3 863.1,697.8 862.6,699.2 861.8,700.2 861.1,700.9 859.6,701.5 857.6,701.6 856.1,701 855.2,700.2 854.4,699.2 854,698.2 852.7,689.8 851.2,685.8 850.8,684.2 850.5,677.2 850.1,674.2 849.6,672.8 848.6,671.8 844.6,669.5 842.7,667.8 841.3,665.8 839.6,661.8 838.6,660.3 837.6,660 833.6,661.4 831.1,661.6 830.1,661.4 828.6,660.8 826.6,659.3 824.8,656.8 823.7,653.8 823.2,650.2 823.4,646.8 824.5,643.2 825.3,641.8 826.6,640.1 827.6,639.2 829.1,638.3 830.6,637.9 832.1,637.8 833.6,638.1 834.6,638.5 836.1,639.5 837.3,640.8 838.9,643.2 840.7,648.2 841.1,649.1 841.8,649.8 843.1,650.1 844.6,650.2 851.1,648.9 852.1,648.5 853.6,647.3 855.1,645.1 863.5,631.8 866.4,626.2 867.3,624.8 869.6,622.6 871.1,621.8ZM627.1,622.2 628.1,622.3 628.7,622.8 629,623.2 629,624.3 628.6,624.9 628.1,625.3 626.9,625.2 626.2,624.8 626,624.2 626.1,623.1ZM905.5,627.8 907.1,627.9 908.6,628.6 909.6,629.8 910.2,631.2 910.2,632.8 909.6,634.3 908.1,635.7 906.6,636.2 905.1,636.2 903.6,635.5 902.4,634.2 901.8,632.8 901.9,630.8 902.6,629.4 903.9,628.2ZM809.8,637.8 811.1,637.3 812.1,637.6 813.1,638.7 813.5,639.8 813.6,641.2 813.2,642.8 812.6,643.5 811.6,644 810.6,644 809.6,643.5 808.9,642.8 808.5,641.8 808.4,640.8 808.6,639.3 809.1,638.4ZM920.2,644.2 922.1,644.1 923.6,644.2 925.1,644.7 926.6,645.5 927.6,646.4 928.8,647.8 929.5,649.2 930,650.8 930.2,652.2 930.1,653.8 929.7,655.2 929.1,656.8 927.6,658.9 923.5,662.8 921.8,664.8 919.5,668.3 919.2,669.2 919.2,670.8 920.9,677.8 921.6,684.8 922.1,686.1 925.5,692.7 926.7,695.8 927.5,698.8 928.6,705.3 929.3,707.8 929.6,708.3 930.1,708.6 934.6,707.1 936.1,707 937.6,707.2 939.1,707.9 940.1,708.7 941.1,709.8 941.8,711.2 942.3,712.8 942.4,714.2 942.2,715.8 941.6,717.2 940.7,718.8 939.6,719.8 938.6,720.4 937.1,720.9 935.6,721 934.6,720.8 933.1,720.2 932.1,719.5 930.6,717.8 928.6,713.4 928.1,712.9 927.1,713 923.6,714.4 921.6,714.6 920.1,714.4 919.1,714 917.9,713.2 916.8,712.2 915.6,710.6 913.8,707.2 910.5,698.2 906.7,691.8 902.6,687.4 900.7,684.8 899.3,682.2 898.4,679.2 898.2,676.8 898.3,674.2 898.9,672.2 899.8,670.2 900.9,668.8 902.1,667.7 903.6,666.7 907.3,664.8 908.3,663.8 910.4,660.8 912,657.8 912.7,655.8 913.6,650.8 914.7,648.2 915.8,646.8 917.1,645.6 918.6,644.8ZM893.4,650.2 894.6,650 896.1,650.1 897.1,650.5 898.2,651.2 899.2,652.2 900.1,653.8 900.7,655.2 901.2,657.2 901.2,660.8 900.7,662.8 900.1,664.3 899.2,665.8 898.1,666.9 897.1,667.6 895.6,668 894.1,668 893.1,667.6 891.2,666.2 890.4,665.2 889.6,663.7 888.8,660.8 888.8,657.2 889.6,654.2 890.4,652.8 891.2,651.8 892.1,651ZM797.5,651.2 799.1,650.9 801.1,650.9 803.1,651.4 804.6,652.1 806.4,653.2 808,654.8 809.2,656.2 810.4,658.2 811.5,660.8 812.4,663.8 813.3,667.8 813.5,669.8 813.2,671.8 812.3,673.8 811.1,675.2 809.6,676.2 807.6,676.9 805.6,676.9 803.6,676.5 801.6,675.5 799.1,673.7 796.6,671.4 794.9,669.2 793.4,666.8 792.5,664.2 792,661.8 792,659.2 792.3,657.2 793.1,655.2 794.1,653.7 795.6,652.2ZM255.4,686.8 258.1,686.4 260.6,686.4 263.1,686.5 265.6,686.9 268.1,687.6 270.1,688.4 272.1,689.4 274,690.8 275.5,692.2 276.6,693.8 277.4,695.2 277.8,696.8 277.8,698.8 277.5,700.2 276.9,701.8 276,703.2 273.6,705.6 270.6,707.4 266.1,709.1 264.1,709.6 262.1,709.8 257.1,709.5 252.6,708.6 249.1,707.2 246.1,705.3 244,703.2 242.6,700.7 242.6,695.3 243.1,694.2 244.9,691.8 247.6,689.6 251.1,687.9ZM761.2,689.2 762.6,689.2 763.6,689.7 764.5,690.8 764.9,691.8 765.1,693.2 765,694.8 764.6,696.8 764,698.8 763.1,700.8 761.9,702.8 760.6,704.4 759.3,705.8 758.1,706.7 756.6,707.5 755.1,707.8 754.1,707.7 753.3,707.2 752.6,706.4 752.1,705.2 752,704.2 752.1,701.2 753,698.2 754.5,695.2 756.6,692.3 759.1,690.2ZM895.8,693.2 897.1,693 898.6,693.2 900.1,693.8 901.6,694.9 902.8,696.2 904,698.3 904.8,700.2 905.4,702.8 905.7,706.2 905.1,709.8 904.1,712.1 901.9,714.8 901.5,715.8 901.7,716.8 903.3,720.8 903.8,723.8 903.6,727.2 902.5,730.2 900.9,732.8 898.6,735 895.6,736.6 892.6,737.4 890.6,737.5 889.1,737.3 883.5,735.8 877.6,735.1 875.1,734.2 873.5,733.2 871.9,731.8 870.7,730.2 869.8,728.2 869.2,726.2 869.1,723.7 869.4,721.8 870.2,719.7 871.4,717.8 872.6,716.5 874.1,715.3 876.1,714.3 878.1,713.8 882.6,713.2 888.1,711.8 891.6,711.3 892.6,710.8 892.6,709.8 891.7,706.8 891.2,704.2 891.1,701.8 891.3,699.8 892,697.2 893.1,695.3 894.6,693.8ZM803.4,717.2 805.6,716.8 807.6,717 809.1,717.4 813.6,719.4 815.6,719.9 817.1,720 821.6,719.6 824.6,719.8 827.1,720.7 829.7,722.2 831.6,724.1 833,726.2 833.9,728.2 834.4,730.8 834.4,733.2 833.9,735.8 833,737.8 831.7,739.8 830.6,741 829.1,742.2 827.6,743.1 825.6,743.9 823.6,744.3 822.1,744.4 820.6,744.4 818.6,744 816.1,742.9 814.1,741.6 812.2,739.8 809.6,736.3 808.4,735.2 801.1,731.5 799.6,730.1 798.5,728.2 797.9,726.2 797.9,723.8 798.5,721.8 799.7,719.8 801.6,718.1ZM263.5,720.8 264.6,720.4 265.6,720.4 267.1,720.7 268.1,721.2 269.8,722.8 270.7,724.8 270.9,727.2 270.4,729.2 269.1,731 268.1,731.8 267.1,732.3 265.1,732.5 263.1,732 262.1,731.3 261.2,730.2 260.3,728.2 260.1,725.8 260.6,723.8 261.6,722.2 262.6,721.3ZM258.6,741.8 259.6,741.3 261.1,741.6 262.1,742.4 262.9,743.8 263.3,745.8 263.2,748.2 262.6,749.5 261.6,750.3 260.6,750.4 259.1,750.1 258,749.2 257,747.8 256.6,746.3 256.8,744.2 257.5,742.8Z"/>
<path fill="#0000ff" d="M594.7,347.2 596.6,347 598.6,347.2 600.2,347.8 601.9,348.8 603,349.8 603.7,351.2 603.6,352.8 603.1,353.8 602.1,354.6 601.1,355.1 598.6,355.6 597.1,355.5 595.6,355.1 593.1,353.9 591.7,352.2 591.3,351.2 591.3,350.2 591.6,349.2 592.5,348.2 593.6,347.6ZM622.4,375.8 622.6,375.5 623.1,375.3 623.8,375.8 624.2,376.8 624.1,377.8 623.6,378.1 623.1,377.9 622.6,377.3 622.4,376.2ZM605,392.2 607.6,391.8 610.1,392.3 611.6,392.9 612.6,393.6 614.2,395.2 615.4,397.8 615.7,400.2 615.2,402.8 614.4,404.2 613.7,405.2 611.6,407 610.1,407.7 608.6,408.1 606.1,408 602.1,407 600.6,407.3 597.4,409.2 591.8,416.2 590.6,417.2 589.1,417.9 587.6,418 586.1,417.6 584.7,416.8 583.9,415.8 583.2,414.2 583,412.8 583.3,411.2 584.1,409.9 590.1,402.4 591.1,401.5 597.1,397.5 602.6,393.4ZM718,427.2 720.6,427.3 722.6,427.8 723.6,428.4 724.5,429.2 725.4,430.8 725.7,432.8 725.5,435.2 724.8,437.2 723.5,439.7 721.6,442.2 719.1,444.6 716.6,446.4 714.1,447.7 711.1,448.7 708.6,448.9 706.6,448.7 704.6,447.9 703.6,447 702.7,445.8 702.4,444.8 702.2,443.2 702.3,441.8 702.8,439.8 704.5,436.2 707.1,433.1 710.6,430.2 712.6,429 714.6,428.1ZM564.2,437.2 566.1,437 568.1,437.1 570.1,437.6 571.6,438.4 573.1,439.6 574.5,441.2 576.8,445.8 577.6,446.3 580.1,447.1 581.5,447.8 582.6,448.5 583.6,449.6 584.3,450.8 584.9,452.2 585.1,453.8 585.1,455.2 584.7,456.8 584.1,458 583.2,459.2 582.1,460.3 580.6,461.2 578.6,461.9 576.6,462.1 574.6,461.7 569.1,459.2 564.1,457.4 561.6,455.6 559.4,453.2 557.9,450.8 557.2,448.8 557,446.2 557.4,443.8 558.2,441.8 559.8,439.8 561.7,438.2ZM771.8,449.2 773.6,449 775.6,449.4 777.1,450.1 778.4,451.2 779.2,452.8 779.5,454.8 779.1,456.8 778.3,458.2 776.6,459.9 774.6,460.8 773.1,461 771.6,460.9 768.8,459.8 768.1,459.6 767.1,459.9 764.6,461.3 763.1,461.6 762.8,461.2 763.3,460.2 766.1,458 766.8,457.2 767.4,453.8 768.3,451.8 769.8,450.2ZM619.4,456.2 621.1,456 622.6,456.2 624,456.8 624.9,457.8 625.2,458.8 625.1,460.2 624.6,461.8 623.8,463.2 622.5,464.8 620.8,466.2 619.1,467.4 617.1,468.3 615.1,468.9 613.6,469 612.1,468.8 611,468.2 610.1,467.2 609.8,465.8 610.2,463.8 611.2,461.8 613,459.8 614.9,458.2 617.1,457ZM657.8,467.2 659.6,467.3 661.6,468.1 663.1,469.4 664,471.3 664.3,473.2 664.2,475.8 663.5,478.2 662.4,480.8 660.8,483.2 658.8,485.8 656.6,487.7 654.1,489.4 651.6,490.6 649.1,491.1 647.1,491.1 645.1,490.4 644.1,489.7 643,488.2 642.5,486.8 642.3,485.2 642.3,483.2 642.8,481.2 643.5,479.2 644.4,477.2 645.7,475.2 647.3,473.2 650.6,470.2 654.1,468.2 656.1,467.5ZM808.5,476.8 810.6,476.5 812.1,476.7 813.6,477.5 814.8,478.8 815.5,480.2 815.6,482.2 815.1,483.8 814.1,485.1 813.1,485.8 812.1,486.2 805.6,487.7 799.6,490 798.2,490.8 794.5,493.8 791.2,499.8 790.6,500.5 789.6,501.3 788.6,501.7 787.1,501.8 785.6,501.4 784.6,500.7 783.8,499.8 783.3,498.8 783.2,497.8 783.3,496.3 787.1,489.1 788.1,487.8 794.6,482.1 797.6,480.1 802.6,478ZM813.6,491.8 815.1,491.7 816.6,492 817.8,492.8 818.8,494.2 819.2,496.2 819,498.2 818.4,500.2 817.3,502.8 816,504.8 814.4,506.7 812.6,508.5 810.6,509.9 808.6,511 806.6,511.6 804.6,511.7 803.1,511.3 802.1,510.5 801.5,509.8 801.1,508.8 800.8,507.2 801.2,504.2 802.6,500.8 804.7,497.8 807.6,494.8 810.6,492.8 812.1,492.1ZM726.1,499.2 727.6,498.9 728.6,499.1 729.6,499.5 731.1,501 732.3,503.2 732.7,505.8 732.4,508.2 731.6,509.8 731.1,510.3 730.1,510.9 728.6,511 726.8,510.3 725.4,508.8 724.4,506.8 723.9,504.2 724,502.2 725,500.2ZM667.5,500.8 669.6,500.4 671.1,500.6 672.1,501 674.1,502.4 675.2,503.8 675.6,504.8 675.8,505.8 675.8,507.2 675.4,508.8 675,509.8 673.6,511.5 671.6,512.6 670.6,512.9 669.1,513 667.6,512.7 666.6,512.3 664.7,510.8 663.6,508.8 663.3,507.8 663.2,506.2 663.5,504.8 663.9,503.8 664.6,502.8 665.6,501.8ZM853.5,503.8 854.6,503.5 855.6,503.5 856.6,503.8 857.4,504.2 858.6,505.6 859.6,508.2 860.1,508.8 860.6,508.9 861.1,508.6 863.6,505.7 864.6,505.2 865.6,505 867.1,505.1 868.1,505.5 869.1,506.4 869.9,507.8 870,508.8 869.9,510.2 868.1,513.8 867.5,515.8 867.2,520.8 866.5,523.2 865.7,524.8 864.5,526.2 863.1,527.4 861.1,528.3 859.6,528.6 857.6,528.7 856.1,528.4 854.6,527.9 853.1,526.9 851.8,525.8 850.8,524.2 850.1,522.8 849.7,520.8 849.7,518.8 850.2,516.8 851.2,513.8 851.4,512.2 851.4,510.8 850.9,507.8 851,506.8 851.3,505.8 852,504.8ZM744.6,529.8 746.1,529.4 747.6,529.4 749.1,529.8 750.1,530.4 751.6,531.6 753.1,533.7 754.1,534.7 757.1,535.7 757.9,536.2 758.2,536.8 758.1,537.8 757.6,538.2 756.6,538.6 754.1,538.6 753.1,539 750.1,541.3 748.1,542.1 745.6,542.1 743.6,541.4 742.1,540.3 741,538.8 740.4,537.2 740.3,535.2 740.8,533.2 741.6,531.9 743.1,530.5ZM888.4,532.8 890.1,532.5 890.8,532.8 891.6,533.3 892.4,534.8 892.6,536.8 892.1,538.8 890.7,540.8 889.1,541.8 887.6,542.1 886.6,541.9 885.6,541.1 884.9,539.8 884.8,538.2 885.1,536.5 886,534.8 887.1,533.5ZM832.6,534.8 833.1,534.8 833.6,535.2 833.7,535.8 833.6,536.8 833.1,537.2 832.6,537.3 832.1,537 831.6,536.2 831.9,535.2ZM766,541.8 767.1,541.6 768.1,542.3 768.4,543.2 768.3,543.8 768.1,544.3 767.6,544.8 766.6,545 766.1,544.9 765.3,544.2 765,543.8 765.1,542.8 765.4,542.2ZM911.9,551.2 912.6,550.9 913.6,550.8 914.6,551.2 915.1,551.7 915.6,552.5 916,553.8 916.2,556.8 915.6,559.8 914.1,562.8 912.6,564.4 911.6,565 910.6,565.2 909.6,564.9 909.1,564.5 908.3,563.2 907.8,561.2 907.8,559.2 908.3,556.8 909.1,554.6 910.6,552.3ZM809.9,566.2 811.6,566.1 813.6,566.3 815.6,566.9 817.1,567.6 818.6,568.6 819.7,569.8 820.7,571.2 821.3,572.8 821.6,574.8 821.5,576.2 821.2,577.8 820.4,579.2 819.3,580.8 818.1,581.8 816.6,582.7 814.6,583.5 812.6,583.8 810.6,583.8 808.6,583.5 806.6,582.7 805.1,581.8 803.6,580.4 802.5,578.8 801.9,577.2 801.6,575.2 801.7,573.8 802.3,571.8 803.1,570.2 804.5,568.8 806.1,567.6 808.1,566.7ZM850.8,584.8 851.6,584.5 852.4,584.8 852.7,585.2 852.5,585.8 851.6,586.1 850.7,585.8 850.5,585.2ZM926.4,597.2 927.1,596.9 928.1,596.8 929.1,597.2 929.6,597.8 930.1,598.8 930.4,600.2 930.1,603.2 929.2,606.2 927.6,608.9 926.6,610 925.6,610.8 924.6,611.2 923.6,611.2 922.6,610.6 921.9,609.2 921.6,607.2 921.9,604.8 922.6,602.3 923.6,600.2 925.1,598.3ZM872,623.8 873.1,623.5 874.6,623.6 875.6,624 876.6,624.8 877.3,625.8 877.8,627.2 877.9,628.8 877.7,630.2 876.9,632.2 871.9,638.8 863,652.8 861,656.2 860.8,657.8 860.8,660.8 860.5,662.8 859.8,664.8 858.1,668.2 857.2,671.2 857.3,673.2 857.8,676.8 859,681.8 859.1,683 858.6,684.2 858.1,684.8 857.1,685.2 856.1,685.2 855.1,684.8 854.6,684.2 854.1,683.2 853.9,676.8 853.6,673.8 853.1,672.2 852.2,671.2 851.5,670.8 848.1,669.4 846.1,668.4 844.7,667.2 843.8,666.2 842.6,664.2 841.9,662.2 841.6,659.8 841.8,657.2 842.4,655.8 843.1,654.8 844.1,653.6 845.6,652.5 848.6,651.2 853.1,650.5 854.1,650 855.1,649.2 856.9,646.8 865.1,633.8 868.6,626.3 870.1,624.8ZM829.9,640.2 831.6,639.9 833.1,640.1 834.6,640.8 835.6,641.6 836.6,642.8 837.5,644.2 838.3,646.2 838.7,648.2 838.9,650.2 838.8,652.2 838.4,653.8 837.9,655.2 836.9,656.8 835.6,658 834.1,658.9 832.6,659.4 831.1,659.5 830.1,659.2 828.6,658.5 827.6,657.6 825.9,655.2 825.3,653.8 824.9,651.8 824.8,648.2 825.2,646.2 825.7,644.8 826.5,643.2 827.6,641.8 828.6,640.9ZM921.4,648.8 923.1,648.9 924.4,649.8 925.4,651.2 925.6,652.8 925.3,654.2 924.3,655.8 923.1,656.5 921.6,656.9 920.1,656.6 918.9,655.8 918.1,654.4 917.9,652.8 918.2,651.2 919.1,649.9 920.1,649.1ZM797.9,653.2 799.6,652.8 801.1,652.8 802.6,653.1 804.1,653.8 805.6,654.7 807.1,656.2 808.3,657.8 809.2,659.2 810,661.2 810.4,663.2 810.7,665.8 810.6,667.8 810.3,669.2 809.6,671 808.6,672.2 807.6,672.9 806.1,673.4 804.6,673.5 802.6,673.1 801.1,672.6 799.1,671.3 797.6,670 796.1,668.2 794.9,666.2 794.1,664.2 793.7,662.2 793.6,660.2 793.9,658.2 794.4,656.8 795.3,655.2 796.6,654ZM893.6,653.2 894.6,652.9 895.6,653 897.1,653.7 898.3,655.2 899.2,657.8 899.2,660.2 898.6,662.2 898,663.2 897.2,664.2 895.6,665 894.1,665 892.6,664 891.4,662.2 890.9,660.2 890.8,658.2 891.2,656.2 892.1,654.6ZM906.7,667.8 908.6,667.5 910.1,667.5 912.1,668.1 913.6,668.8 915.1,670.1 916.2,671.2 917.5,673.2 918.4,675.2 919,677.2 919.4,679.2 919.3,684.8 919.5,686.2 924.3,695.8 925,697.8 925.5,700.2 925.6,703.2 925,706.2 924.1,708.1 922.6,709.4 921.6,709.6 920.1,709.5 918.6,708.6 917.1,707 916,705.2 915.1,703.2 913.6,697.2 910.6,692.2 909,690.2 905.6,687.6 903.6,685.8 902,683.8 900.8,681.2 900.2,679.3 899.9,676.8 900.1,674.8 900.7,672.8 901.6,671.1 903.1,669.5 904.6,668.5ZM256.2,689.2 260.1,688.9 264.1,689.3 267.6,690.4 269.4,691.2 270.8,692.2 272.1,693.4 273.1,694.8 273.5,695.8 273.9,697.2 273.9,698.8 273.7,699.8 273.1,701.2 272.4,702.2 270.6,703.9 268.1,705.4 265.1,706.5 261.6,707.1 258.1,707 254.6,706.4 251.6,705.3 249.2,703.8 247.3,701.8 246.3,699.8 246,698.2 246.1,697.2 246.7,695.2 248.1,693.2 250.1,691.6 253.1,690.1ZM758.9,694.8 760.1,694.4 760.6,694.5 761.1,695.1 761.4,696.2 761.1,698.1 760.1,700.2 759.1,701.4 757.6,702.5 756.6,702.5 756.1,702.2 755.7,701.2 755.6,700.2 756,698.8 757.1,696.5 758.1,695.4ZM896.2,696.8 897.1,696.5 898.1,696.4 899.1,696.7 900.1,697.3 901.8,699.2 902.6,700.8 903.1,702.2 903.4,705.2 903.3,706.8 902.9,708.2 901.9,710.2 901.1,711 900.1,711.5 899.1,711.6 898.1,711.5 896.6,710.7 895,708.8 893.7,705.8 893.4,702.8 893.7,700.2 894.6,698.2 895.4,697.2ZM889.7,713.8 891.6,713.7 893.1,713.8 894.6,714.2 896.1,714.8 897.1,715.4 898.6,716.8 900.4,719.2 901.4,722.2 901.7,724.2 901.6,725.8 900.8,728.8 900,730.2 898.8,731.8 897.1,733.3 895.1,734.3 893.1,734.9 891.1,735.1 888.6,734.8 883.1,733.4 878.1,733 876.1,732.2 874.1,730.9 873.1,729.8 872.2,728.2 871.6,726.8 871.3,724.8 871.5,722.8 872,721.2 872.7,719.8 873.6,718.7 875.6,717 877.6,716.2 883.1,715.4ZM803.9,719.2 805.6,718.9 807.6,719.1 813.1,721.4 815.6,722 817.1,722.1 821.1,721.7 823.6,721.8 826.1,722.5 828.1,723.7 829.6,725 830.9,726.8 831.6,728.2 832.2,730.2 832.3,732.2 832.1,734.2 831.4,736.2 830.6,737.8 829.3,739.2 827.6,740.7 826.1,741.5 824.1,742.1 822.1,742.3 820.1,742.1 818.1,741.5 816.1,740.5 814.2,738.8 811.4,735.2 810.1,733.9 808.1,732.7 802.9,730.2 801.6,729.2 800.8,728.2 800.3,727.2 799.9,725.8 799.9,724.2 800.1,723.2 800.8,721.8 801.6,720.8 802.6,719.9Z"/>
<path fill="#00ff00" d="M596,348.2 597.1,348.2 598.6,348.4 600.1,349 601.1,349.8 601.8,350.8 602.1,351.8 601.8,352.8 601.5,353.2 600.6,353.9 599.6,354.2 597.6,354.4 595.6,353.9 593.8,352.8 593,351.2 593.1,350.1 594.1,348.9ZM605.1,392.8 607.6,392.4 610.1,392.8 612.1,393.9 613.9,395.8 614.8,397.8 615.1,400.2 614.6,402.8 613.5,404.8 612.5,405.8 611.1,406.7 608.6,407.5 606.1,407.5 602.1,406.3 601.1,406.3 600.1,406.6 596.8,408.8 591.1,415.8 590.1,416.6 589.1,417 587.6,417.1 586.6,416.9 585.4,416.2 584.5,415.2 583.9,413.8 583.9,412.2 584.2,411.2 590.9,402.8 591.6,402.1 597.6,398.1 602.6,394ZM715.9,428.2 718.1,427.8 720.6,427.9 722.6,428.7 723.9,429.8 724.7,431.2 725.1,433.2 724.7,435.8 723.7,438.2 722.2,440.8 720.1,443.1 717.6,445.1 715.1,446.6 712.6,447.7 710.1,448.2 707.6,448.2 705.6,447.5 704.5,446.8 703.7,445.8 703,443.8 702.9,442.2 703.1,440.8 704.2,437.8 706.2,434.8 709.1,431.9 712.6,429.5ZM564.9,437.8 566.6,437.6 568.6,437.8 570.1,438.3 571.6,439.2 572.9,440.2 574,441.8 574.8,443.2 575.8,445.8 576.5,446.8 577.1,447.1 580.8,448.2 582.1,449.2 583.1,450.2 583.7,451.2 584.2,452.8 584.3,455.2 583.8,456.8 583.3,457.8 581.6,459.7 580.1,460.6 578.1,461.2 576.1,461.2 574.6,460.9 569.6,458.4 565.6,457.1 564.1,456.4 562.1,455.1 559.9,452.8 558.6,450.8 557.7,448.2 557.6,445.8 558,443.8 559,441.8 560.6,439.8 562.6,438.5ZM771.7,450.2 773.6,450 775.6,450.4 777.1,451.4 777.8,452.2 778.2,453.2 778.4,455.2 777.8,457.2 776.6,458.8 775.6,459.5 774.6,459.9 773.1,460.1 771.6,459.9 768.1,458.2 767.9,457.8 768.2,454.2 768.8,452.8 770.1,451.2ZM619.2,457.2 620.6,457.1 622,457.3 623,457.8 623.6,458.4 623.9,459.2 623.9,460.8 623.5,461.8 622.7,463.2 621.6,464.5 620.1,465.8 617.1,467.4 615.6,467.8 614.1,467.9 613.1,467.8 612.1,467.3 611.2,466.2 611,464.8 611.5,463.2 612.3,461.8 613.7,460.2 615.6,458.8 617.6,457.8ZM656.1,468.2 658.1,468 660.1,468.3 661.7,469.2 662.9,470.8 663.5,472.8 663.6,474.8 663.2,477.2 662.2,479.8 660.8,482.2 658.9,484.7 656.9,486.8 654.6,488.4 652.6,489.5 650.1,490.2 648.1,490.4 646.1,489.9 645,489.2 644.1,488.3 643.5,487.2 643.1,485.8 643,484.2 643.2,482.2 644.3,478.8 645.4,476.8 646.6,475 649.6,471.8 652.6,469.6 654.1,468.9ZM807.5,477.8 809.6,477.3 811.1,477.3 812.6,477.8 813.7,478.8 814.6,480.3 814.8,481.8 814.4,483.2 813.6,484.4 812.1,485.4 805.6,487 797.6,489.8 793.6,492.8 790.1,499.1 789.6,499.8 788.6,500.4 787.6,500.6 786.6,500.4 785.4,499.8 784.5,498.2 784.5,496.8 788.1,489.9 788.9,488.8 793.1,485.2 795.9,482.2 797.6,481 802.6,478.9ZM812.5,492.8 814.6,492.5 816.1,492.8 817.1,493.4 818,494.8 818.4,496.2 818.3,498.2 817.8,500.2 816.9,502.2 815.7,504.2 814.1,506.2 812.6,507.8 810.6,509.2 808.6,510.3 806.6,510.8 805.1,510.9 803.6,510.4 802.7,509.7 802.1,508.9 801.6,506.8 801.9,504.2 803,501.2 805,498.2 807.1,495.9 809.6,494.1ZM667.6,501.2 668.6,501 670.1,501 672.1,501.5 673.7,502.8 674.5,503.8 675,504.8 675.2,505.8 675.2,507.2 674.7,509.2 673.6,510.8 672.6,511.6 671.6,512.1 670.6,512.4 669.1,512.5 667.1,511.9 665.4,510.8 664.6,509.8 664.1,508.8 663.8,507.8 663.7,506.2 664.3,504.2 665.6,502.5 666.6,501.7ZM726.7,501.2 728.1,501 729.1,501.4 730.1,502.3 730.9,503.8 731.2,505.2 731.1,506.9 730.6,508 729.6,508.9 728.6,509 727.6,508.7 726.6,507.8 725.7,506.2 725.4,504.8 725.5,503.2 726.1,501.8ZM853.4,504.8 854.1,504.4 855.1,504.3 856.1,504.5 857.1,505.1 857.9,506.2 858.9,509.3 859.6,510 860.1,510.2 860.6,510.2 861.6,509.7 863.6,506.9 865.1,505.9 866.6,505.9 867.6,506.2 868.6,507.2 869.1,508.2 869.1,509.8 867.4,513.2 866.9,514.8 866.7,516.2 866.6,520.2 866,522.8 865.2,524.2 864.1,525.6 862.6,526.8 861.1,527.5 859.6,527.9 858.1,528 856.6,527.8 855.1,527.3 853.6,526.4 852.6,525.5 851.6,524.2 850.9,522.8 850.4,520.8 850.4,518.8 850.9,516.8 851.9,513.8 852.3,511.8 851.8,507.2 852.3,505.8ZM745.5,530.2 746.6,530.1 748.1,530.3 750.1,531.3 751.1,532.2 751.9,533.2 753.3,536.2 753,537.2 751.4,539.2 749.6,540.7 748.1,541.3 746.1,541.4 743.9,540.8 742.2,539.2 741.2,537.2 741,536.2 741.1,534.8 741.9,532.8 742.7,531.8 743.6,531ZM888,534.8 889.1,534.4 890.1,534.6 890.8,535.2 891.1,536.8 890.7,538.2 890.1,539.2 889.1,540 888.1,540.3 887.6,540.2 886.9,539.8 886.6,539.2 886.3,538.2 886.4,537.2 886.7,536.2 887.4,535.2ZM912,553.2 913.1,553 913.6,553.1 914.3,553.8 914.9,555.2 914.9,557.2 914.5,559.2 913.6,561.2 912.6,562.4 912,562.8 911.1,563 910.1,562.7 909.4,561.8 909.1,560.2 909.1,558.8 909.5,556.8 910.1,555.3 911.1,553.9ZM809,567.2 810.6,567 812.6,567 815.6,567.7 817.1,568.5 818.5,569.8 819.4,570.8 820.2,572.2 820.6,573.8 820.7,575.2 820.5,576.8 820,578.2 819.1,579.6 818.1,580.7 815.6,582.3 814.1,582.8 812.1,583.1 810.1,583 808.1,582.5 806.6,581.8 805.1,580.7 803.8,579.2 803,577.8 802.6,576.2 802.5,574.2 802.8,572.8 803.5,571.2 804.6,569.8 805.8,568.8 807.1,568ZM927.1,598.8 928.1,598.9 928.6,599.4 929,600.2 929.2,602.2 928.8,604.2 928,606.2 926.6,608.2 925.1,609.2 924.1,609.2 923.6,608.9 923.2,608.3 922.9,607.2 922.8,605.8 923.2,603.8 924,601.8 925,600.2 926.1,599.2ZM871.9,624.8 873.1,624.5 874.1,624.5 875.1,624.9 876.1,625.8 876.7,626.8 877,628.2 877,629.8 876.7,630.8 875.6,632.6 872.2,636.2 870.7,638.2 861.3,653.2 860.1,655.8 860,656.8 860.2,661.2 859.7,663.2 858.9,665.2 856.6,668.7 855.6,669.6 854.6,670.1 853.6,670.2 852.1,669.9 849.1,669.1 847.1,668.3 845.6,667.2 844.2,665.8 843.3,664.2 842.7,662.8 842.4,661.2 842.3,659.2 842.7,657.2 843.4,655.8 845.1,653.8 847.1,652.5 849.6,651.6 854.1,651.1 855.1,650.7 856.3,649.8 857.7,647.8 866,634.8 866.9,632.8 868.3,628.8 869.1,627.1 870.2,625.8ZM831.3,640.8 832.6,640.8 834.1,641.4 835.1,642.1 836.1,643.2 837,644.8 837.6,646.2 838.2,649.8 838.1,651.8 837.8,653.2 836.6,655.8 835.6,657 834.6,657.8 833.6,658.3 832.1,658.7 830.6,658.5 829.6,658.2 828.6,657.6 827.6,656.6 826.7,655.2 826,653.8 825.6,652.2 825.3,650.2 825.4,648.2 825.6,646.8 826.1,645.2 826.9,643.8 828.1,642.3 829.1,641.5 830.1,641ZM798.6,653.8 799.6,653.5 801.1,653.5 802.6,653.8 804.1,654.5 805.6,655.5 806.8,656.8 808,658.2 808.8,659.8 809.3,661.2 809.8,663.2 810,665.2 809.8,667.2 809.5,668.8 808.7,670.2 807.8,671.2 806.6,672 805.1,672.5 803.6,672.5 802.1,672.1 800.6,671.5 799.1,670.5 797.6,669.2 796.4,667.8 795.3,665.8 794.6,663.8 794.2,661.8 794.2,659.8 794.5,658.2 795.1,656.8 796.1,655.4 797.1,654.5ZM893.6,654.8 894.6,654.3 896.1,654.6 897.4,655.8 898.1,657.5 898.3,659.2 897.9,661.2 897,662.8 895.6,663.6 894.1,663.5 893.1,662.8 892.4,661.8 891.9,660.2 891.7,658.8 892.1,656.8 892.6,655.8ZM906,668.8 907.6,668.4 909.6,668.4 911.1,668.7 912.6,669.3 914.1,670.3 915.6,671.8 916.7,673.2 917.7,675.2 918.4,677.2 918.7,679.8 918.4,685.2 918.5,686.8 918.9,687.8 920.4,690.2 923.4,696.2 924.1,698 924.5,699.8 924.6,702.2 924.2,704.8 923.5,706.2 922.1,707.5 921.1,707.8 919.6,707.5 918.6,706.8 917.6,705.8 916.6,704.2 915.8,702.2 914.6,696.5 911.7,691.8 909.9,689.8 906.1,687.2 904.4,685.8 902.8,683.8 901.4,681.2 900.8,679.2 900.6,677.2 900.7,675.2 901.1,673.8 901.7,672.2 902.8,670.8 904.1,669.7ZM256.4,690.2 260.1,689.9 263.6,690.2 266.9,691.2 269.5,692.8 271.4,694.8 272,695.8 272.4,697.2 272.4,698.8 272.1,699.8 271,701.8 269.5,703.2 267.1,704.7 264.6,705.5 261.6,706 258.6,706.1 255.6,705.6 253.1,704.7 250.5,703.2 249,701.8 247.9,699.8 247.6,697.8 248,695.8 249.4,693.8 251.2,692.2 253.6,691.1ZM896.6,698.2 898.1,698 899.1,698.3 899.8,698.8 901.1,700.2 902.1,702.8 902.4,705.2 902.1,707.2 901.1,709 900.6,709.5 899.6,710 898.1,709.9 896.6,708.9 895.4,707.2 894.7,705.2 894.4,703.2 894.6,701.2 895.5,699.2ZM888.5,714.8 891.6,714.5 894.6,715.1 896.1,715.8 897.3,716.8 898.3,717.8 899.4,719.2 900.2,720.8 900.6,722.2 900.8,725.2 900.4,727.2 899.9,728.8 898.2,731.2 896.6,732.6 894.6,733.7 892.6,734.2 890.6,734.3 888.6,734 883.6,732.6 878.1,732.1 876.1,731.3 874.7,730.2 873.8,729.2 872.9,727.8 872.4,726.2 872.2,724.8 872.3,723.2 872.7,721.8 873.5,720.2 874.2,719.2 875.6,718 877.6,717.1 883.1,716.2ZM805.6,719.8 807.6,720 812.6,722.1 814.6,722.7 816.6,722.9 820.6,722.5 823.1,722.5 825.6,723.2 827.6,724.3 829.1,725.7 830.3,727.2 831,728.8 831.4,730.8 831.5,732.8 831.3,734.2 830.5,736.2 829.6,737.8 828.2,739.2 826.6,740.3 825.1,741 823.1,741.5 821.1,741.5 819.6,741.2 817.6,740.4 816.1,739.5 814.6,738.1 811.6,734.3 810.6,733.3 808.6,732 803.1,729.4 802.1,728.5 801.2,727.2 800.9,726.2 800.7,724.8 801,723.2 801.5,722.2 802.3,721.2 803.1,720.6 804.1,720.1Z"/>
<path fill="#00cc00" d="M605,393.8 607.1,393.3 609.6,393.6 611.6,394.6 613.1,396.2 614,398.2 614.2,400.2 613.8,402.2 612.6,404.3 611.6,405.3 610.6,405.9 609.1,406.5 607.6,406.7 605.1,406.3 601.1,404.7 600.1,404.7 599.1,405 595.4,407.2 589.3,414.8 588.1,415.2 587.1,415 586.6,414.7 586.1,414.1 585.8,413.2 586.1,411.9 592.2,404.2 592.7,403.8 597.6,400.5 602.1,395.6 603.6,394.5ZM715.8,429.2 718.1,428.9 720.1,429.1 721.6,429.6 722.9,430.8 723.7,432.2 723.9,434.2 723.5,436.2 722.7,438.2 721.5,440.2 719.6,442.4 717.6,444.1 715.1,445.6 713.1,446.5 710.6,447.1 708.6,447.1 706.6,446.5 705.1,445.2 704.5,444.2 704.2,443.2 704.2,440.8 705.3,437.8 707.1,435 709.6,432.5 712.6,430.5ZM565.8,438.8 567.1,438.7 568.6,439 570.1,439.6 571.1,440.2 572.3,441.2 573.3,442.8 574,444.2 574.8,447.2 575.4,448.2 576.1,448.6 579.6,449.4 581,450.2 581.9,451.2 582.7,453.2 582.7,455.2 581.8,457.2 580.6,458.5 579.6,459.1 578.1,459.6 576.6,459.7 575.1,459.3 570.1,456.3 566.1,455.6 564.1,454.8 562.1,453.4 560.5,451.8 559.4,449.8 558.8,447.8 558.7,445.8 559.2,443.8 560.3,441.8 561.9,440.2 563.6,439.3ZM772.6,452.2 773.6,452.2 774.6,452.4 775.6,453.2 776.1,454.2 776.2,455.2 775.9,456.2 775.1,457.2 774.1,457.8 773.1,457.9 772.1,457.7 771.1,457 770.5,456.2 770.4,454.8 770.7,453.7 771.6,452.8ZM618.2,459.8 619.6,459.7 620.1,459.8 620.7,460.2 620.9,461.2 620.3,462.8 619.1,464.1 617.6,465 616.1,465.4 615.1,465.3 614.6,465 614.1,464.3 614.1,463.8 614.7,462.2 616.1,460.8ZM655.3,469.8 657.1,469.4 659.1,469.7 660.6,470.5 661.6,471.7 662.2,473.2 662.3,475.2 662,477.2 661.3,479.2 660,481.8 658.5,483.8 656.6,485.6 654.6,487.2 652.6,488.2 650.6,488.8 648.6,488.9 647.1,488.6 646.1,488 645.4,487.2 644.5,485.2 644.3,483.8 644.4,482.2 645.3,479.2 646.9,476.2 649.5,473.2 652.1,471.2 653.6,470.4ZM808.4,479.2 810.6,478.9 811.6,479.2 812.2,479.8 812.8,480.8 812.9,481.8 812.6,482.8 812.1,483.4 811.1,484 805.1,485.4 800.1,487.2 799.1,487.3 798.1,487 797.1,486.2 796.7,485.2 796.9,484.2 797.5,483.2 798.6,482.3 803.1,480.6ZM812,494.2 813.6,494 815,494.2 815.8,494.8 816.6,495.8 817,497.2 816.9,498.8 816.6,500.2 815.7,502.2 814.6,504.1 813.2,505.8 811.6,507.2 810.1,508.2 808.6,508.9 807.1,509.3 805.6,509.3 804.6,509 803.4,507.8 803.1,506.8 803,505.8 803.2,503.8 804.2,501.3 805.9,498.8 807.6,496.9 809.6,495.4ZM667.7,502.2 669.6,501.9 671.1,502.2 672.9,503.2 673.9,504.8 674.3,506.8 673.9,508.8 672.7,510.2 671.1,511.2 669.1,511.5 667.6,511.1 666.1,510.1 665.4,509.2 664.9,508.2 664.7,506.3 665.1,504.8 666.1,503.3ZM855,510.8 855.6,510.3 856.1,510.3 858.5,511.8 860.1,512.2 861.6,512.2 864.1,511.7 864.7,512.2 865.4,518.2 865.1,521.3 864.6,522.8 863.6,524.2 862.1,525.6 860.6,526.3 858.1,526.7 856.6,526.4 855.6,526.1 853.6,524.7 852.6,523.4 852.1,522.2 851.6,520.2 851.9,517.8 852.8,515.2ZM745.7,531.8 747.6,531.7 749.1,532.4 750.4,533.8 751,535.2 750.9,536.8 750.2,538.2 749.1,539.2 747.6,539.9 746.1,539.9 744.6,539.4 743.3,538.2 742.6,536.8 742.6,535.2 743.1,533.7 744.1,532.5ZM809.3,568.8 810.6,568.5 812.1,568.4 814.6,569 816.7,570.2 817.7,571.2 818.4,572.2 818.8,573.2 819,574.8 818.9,576.2 818.6,577.2 817.3,579.2 815.1,580.8 813.6,581.3 812.1,581.6 810.6,581.5 809.1,581.2 807.6,580.5 806.6,579.9 805.6,578.9 804.8,577.8 804.4,576.8 804.2,575.2 804.3,573.8 804.8,572.2 805.6,571.1 806.6,570.1 808,569.2ZM871.8,627.2 873.1,626.9 874,627.2 874.8,628.2 874.9,629.2 874.7,630.2 874.1,631.1 872.6,632.1 871.6,632.3 871.1,632.2 870.6,631.8 870.3,630.2 870.8,628.2ZM831.2,642.2 833.1,642.5 834.1,643 835.1,643.9 836.4,646.2 837.1,649.2 836.8,652.2 835.7,654.8 834.1,656.4 833.1,656.9 832.1,657.2 831.1,657.1 830.1,656.8 829.1,656.2 828.1,655.2 827.5,654.2 826.8,652.8 826.4,650.2 826.6,647.2 827.6,644.9 829.1,643.2 830.1,642.6ZM849.8,652.8 851.6,652.6 853.1,652.7 855.1,653 856.6,653.5 857.7,654.8 858.8,657.8 859.1,660.8 858.9,662.2 858.3,663.8 857.5,665.2 856.1,666.8 855.1,667.6 853.6,668.2 852.1,668.4 850.1,668.2 848.6,667.7 847.1,667 845.6,665.8 844.8,664.8 843.7,662.2 843.5,660.8 843.5,659.2 843.9,657.8 844.6,656.2 845.4,655.2 846.6,654.1 848.1,653.3ZM798.5,655.2 799.6,654.9 801.1,654.8 802.6,655.1 803.6,655.5 805.1,656.5 806.1,657.5 807.1,658.8 807.9,660.2 808.4,661.8 808.8,663.8 808.8,665.2 808.6,666.8 807.6,668.9 806.6,670 805.6,670.6 804.6,670.9 803.1,670.9 800.6,670.1 799.1,669.1 798.1,668.2 797,666.8 796.2,665.2 795.3,662.2 795.3,660.8 795.5,659.2 796,657.8 796.6,656.8 797.6,655.8ZM907.4,669.8 908.6,669.7 910.1,669.8 911.6,670.3 913.1,671.2 915.3,673.2 916.2,674.8 916.9,676.2 917.6,679.2 917.4,682.2 916.1,686.9 915.5,688.2 914.6,688.9 913.6,689 911.6,688.5 909.1,687.5 907.1,686.4 905.5,685.2 904.1,683.8 903.1,682.2 902.4,680.8 901.8,678.8 901.7,677.2 901.9,675.2 902.4,673.8 903.2,672.2 904.6,670.9 906.1,670.1ZM256.8,692.2 259.6,691.9 262.6,692.1 265.1,692.9 267.1,694 268.6,695.5 269.3,697.2 269.4,698.2 269.2,699.2 268.4,700.8 267.1,702 265.6,702.9 263.6,703.6 261.1,704.1 258.6,704 256.6,703.7 254.6,703 253.1,702.1 252,701.2 251,699.8 250.6,698.2 250.8,696.8 251.6,695.2 253.1,693.9 255.1,692.8ZM918.3,695.2 918.6,695.1 919.1,695.2 920.6,696.5 921.6,698 922.1,699.2 922.2,700.8 922,702.2 921.5,703.2 920.6,703.7 920.1,703.7 919.1,703.1 918.4,702.2 917.9,700.8 917.6,698.2 917.9,696.2ZM888.3,716.2 891.1,715.9 893.6,716.3 896.1,717.6 898,719.8 899.1,722.2 899.4,723.8 899.3,725.2 898.7,727.8 897.9,729.2 897.1,730.2 895.6,731.5 894.1,732.2 892.6,732.7 890.6,732.8 888.6,732.5 883.1,730.9 878.6,730.5 877.1,729.9 875.6,728.8 874.3,726.8 873.9,724.8 874,723.2 874.3,722.2 875.6,720.2 876.8,719.2 878.1,718.6 883.1,717.8ZM804.9,721.8 806.1,721.6 807.1,721.8 811.6,723.7 814.1,724.4 816.1,724.4 820.1,723.9 822.1,723.9 824.1,724.2 826.1,725 827.6,726.2 828.5,727.3 829.4,728.8 829.9,730.2 830.1,731.8 830,733.2 829.6,734.8 828.9,736.2 827.7,737.8 826.6,738.7 825.1,739.5 823.6,739.9 822.1,740.1 820.6,740 819.1,739.6 817.6,738.8 815.6,737.1 812.1,732.5 811.1,731.5 809.1,730.2 804.1,727.8 803.1,726.8 802.6,725.2 802.8,723.8 803.6,722.6Z"/>
<path fill="#009900" d="M606.2,394.2 607.6,394.1 608.6,394.2 610.6,394.9 611.6,395.8 612.5,396.8 613.3,398.8 613.4,400.2 613.3,401.2 612.4,403.2 611.6,404.2 610.6,405 608.6,405.7 606.6,405.8 604.1,405 602.9,404.2 601.2,402.8 600.8,402.2 600.4,401.2 600.4,400.2 600.7,399.2 602.3,396.8 604.1,395.1ZM715.3,430.2 717.1,429.9 719.1,429.9 720.6,430.4 721.7,431.2 722.6,432.7 722.8,434.2 722.6,436.2 721.8,438.2 720.5,440.2 719.1,441.8 717.1,443.5 715.1,444.8 713.1,445.6 711.1,446.1 709.1,446.1 707.6,445.7 706.1,444.6 705.6,443.8 705.2,442.8 705.1,441.8 705.3,440.2 706.2,437.8 707.9,435.2 710.1,433.1 712.6,431.4ZM566.4,439.8 568.1,439.9 569.6,440.5 571.1,441.6 572.1,442.7 572.7,443.8 573.2,445.2 573.7,449.2 574.1,450.4 574.6,450.7 577.1,450.6 578.6,450.9 579.6,451.4 580.5,452.2 580.9,453.2 581,454.8 580.6,456 579.6,457.1 578.1,457.8 577.1,457.9 576.1,457.8 574.5,456.8 572.1,453.8 571.1,453.7 567.6,454.3 565.6,454.1 563.6,453.2 561.5,451.2 560.5,449.8 559.8,447.8 559.8,445.8 560.3,443.8 561.3,442.2 563,440.8 564.6,440ZM656.3,470.8 657.6,470.8 659.1,471.3 660.1,472.1 660.8,473.2 661.1,474.8 661.1,476.2 660.6,478.2 659.8,480.2 658.6,482.1 657.2,483.8 655.6,485.3 654.1,486.3 652.1,487.2 650.6,487.6 649.1,487.6 647.6,487.2 646.6,486.4 646.1,485.7 645.5,483.8 645.7,481.2 646.8,478.2 648.6,475.5 651.1,473.1 653.6,471.5 655.1,471ZM811.5,495.8 812.6,495.5 813.6,495.6 814.6,496 815.2,496.8 815.6,497.8 815.6,498.8 815.4,500.2 814.8,501.8 813.1,504.4 811.7,505.8 810.4,506.8 809.1,507.4 807.6,507.9 806.6,507.9 805.6,507.5 804.8,506.8 804.4,505.2 804.6,503.2 805.4,501.2 806.6,499.4 808.1,497.8 809.6,496.6ZM667.8,503.2 669.6,502.8 671.1,503.2 672.1,503.8 673.1,505.2 673.4,506.8 673,508.2 672.1,509.6 671.1,510.2 669.6,510.6 668.1,510.3 666.6,509.3 666,508.2 665.6,506.8 665.9,505.2 666.6,504.1ZM856.1,513.8 857.6,513.4 861.1,514 862.6,514.8 863.7,516.2 864.2,518.8 863.9,521.2 863.4,522.2 862.6,523.5 861.6,524.4 860.6,524.9 859.6,525.3 858.1,525.4 856.1,524.9 854.5,523.8 853.7,522.8 853.2,521.8 852.8,519.8 853.3,517.2 854.6,514.9ZM745.8,533.8 746.6,533.6 747.6,533.7 748.7,534.8 749,535.8 748.8,536.8 748.4,537.2 747.6,537.9 746.1,538 745.1,537.4 744.7,536.8 744.5,535.8 744.6,535 745.1,534.2ZM809.7,570.2 811.6,570 813.6,570.3 815.4,571.2 816.7,572.8 817.2,574.2 817.1,576.2 816.1,578.1 814.6,579.3 812.6,579.9 810.1,579.8 808.1,579 807.3,578.2 806.5,577.2 806.1,576.2 805.9,575.2 806.3,573.2 806.8,572.2 807.6,571.4 808.6,570.7ZM831,643.8 832.1,643.7 833.1,644 834.6,645.2 835.6,647.1 836,649.2 835.9,651.2 835.1,653.4 834.5,654.2 833.6,655.1 832.1,655.7 830.6,655.5 829.6,655 828.9,654.2 827.8,652.2 827.4,650.2 827.5,648.2 828.2,646.2 828.8,645.2 829.6,644.4ZM850.1,653.8 852.6,653.7 854.1,654.1 855.1,654.6 856.1,655.3 856.8,656.2 857.9,658.8 858,661.2 857.6,662.8 857.2,663.8 855.5,665.8 854.6,666.4 853.1,667 851.6,667.2 850.1,667.1 848.6,666.6 847.6,666.1 846.6,665.2 845.8,664.2 845.2,663.2 844.7,661.8 844.6,659.2 845,657.8 845.6,656.7 846.6,655.5 847.6,654.7 848.6,654.2ZM799.3,656.2 800.6,656 801.6,656 803.6,656.7 805.6,658.4 807,660.8 807.7,663.2 807.6,665.8 806.8,667.8 806.1,668.6 805.1,669.2 804.1,669.6 803.1,669.6 802.1,669.5 800.6,668.9 798.6,667.2 797,664.8 796.3,662.2 796.5,659.8 797,658.2 797.6,657.4 798.4,656.8ZM906.4,671.2 907.6,670.9 909.1,670.9 911.6,671.6 913.9,673.2 915.6,675.8 916.2,677.2 916.5,678.7 916.4,681.8 916,683.2 915.2,684.8 914.6,685.5 913.6,686.2 912.6,686.6 911.1,686.7 909.6,686.4 908.1,685.7 905.6,683.9 904.6,682.7 903.7,681.3 903.1,679.8 902.8,678.2 902.7,676.8 903,675.2 903.6,673.8 904.3,672.8 905.1,672ZM257.2,694.8 259.1,694.3 260.6,694.3 262.6,694.7 263.9,695.2 265.1,696.2 265.6,697.2 265.7,698.2 265.4,699.2 264.6,700.2 263.9,700.8 262.6,701.3 261.1,701.7 258.6,701.6 257.2,701.2 256.1,700.8 255.4,700.2 254.6,699.2 254.3,697.8 254.6,696.8 255.1,696.1 256.1,695.3ZM890.1,717.2 892.6,717.4 894.6,718.3 896.3,719.8 897.5,721.8 898,723.8 897.8,726.2 896.9,728.2 896.1,729.2 895.1,730.1 894.1,730.8 892.6,731.3 891.1,731.4 889.6,731.3 883.1,729.3 878.6,728.6 877.6,728.1 876.6,727.2 875.9,725.8 875.7,723.8 876.3,722.2 877.6,720.9 879,720.2 882.6,719.6 887.6,717.8ZM820.4,725.2 823.1,725.3 824.5,725.8 825.6,726.3 826.8,727.2 827.6,728.2 828.5,730.2 828.7,732.8 828.3,734.2 827.9,735.2 827.1,736.4 826.1,737.3 825.1,738 823.6,738.5 821.6,738.7 820.1,738.5 818.6,737.8 817.2,736.8 815.8,735.2 814.1,732.8 812.9,730.2 812.3,728.8 812.5,727.8 812.9,727.2 814,726.8 817.1,725.8Z"/>
<path fill="#ffff00" d="M605.6,395.2 607.6,394.9 609.4,395.2 611,396.2 612.1,397.8 612.6,399.8 612.3,401.8 611.1,403.6 609.6,404.6 607.6,405 605.6,404.7 603.6,403.6 602.7,402.8 602.1,401.8 601.8,400.2 601.9,399.2 602.3,398.2 603.6,396.5 604.6,395.8ZM717.1,430.8 718.6,430.8 720.1,431.4 721.1,432.2 721.6,433.2 721.9,434.8 721.7,436.2 721.1,437.8 720.1,439.6 718.7,441.2 717.1,442.7 715.5,443.8 713.6,444.7 711.6,445.2 710.1,445.3 708.6,445 707.6,444.5 706.6,443.2 706.2,442.2 706.1,441.2 706.5,439.2 707.7,436.8 709.6,434.5 712.1,432.5 714.6,431.3ZM564.2,441.2 565.6,440.8 566.6,440.8 568.6,441.1 569.6,441.7 570.6,442.5 571.8,444.2 572.4,446.7 572.1,449.2 571.8,450.2 571.1,451.2 569.6,452.3 568.4,452.8 567.1,453 565.1,452.7 564.1,452.2 562.8,451.2 561.4,449.2 560.8,447.2 560.8,445.8 561,444.8 562.1,442.8 563.1,441.9ZM654.7,472.2 656.1,472 657.1,472 658.1,472.4 659.2,473.2 659.7,474.2 660,475.8 659.8,477.2 659.2,479.2 658.4,480.8 657.1,482.6 655.6,484.1 654.1,485.2 652.6,485.9 651.1,486.3 649.6,486.4 648.6,486.1 647.6,485.3 647.2,484.8 646.7,483.2 646.8,481.2 647.4,479.2 648.8,476.8 650.5,474.8 652.6,473.2ZM811.5,497.2 812.6,497.2 813.1,497.4 813.9,498.2 814.1,499.8 813.5,501.8 812.2,503.8 810.6,505.2 808.6,506.1 807.1,506.1 806.6,505.8 806.1,505.2 805.9,504.2 806.1,502.8 806.6,501.5 807.6,499.9 808.7,498.8 810.1,497.8ZM668.1,504.2 669.1,503.9 670.1,503.9 671.1,504.4 671.9,505.2 672.3,506.2 672.1,507.8 671.6,508.6 670.7,509.2 669.6,509.5 668.6,509.4 667.6,508.8 667.1,508.2 666.7,507.2 666.7,506.2 667.1,505.2ZM857,515.2 858.6,515.1 860.6,515.6 861.7,516.2 862.6,517.8 862.9,519.8 862.5,521.2 861.4,522.8 860.6,523.4 859.6,523.8 857.6,523.9 856.1,523.3 855,522.2 854.3,520.8 854.1,519.2 854.6,517.5 855.6,516.1ZM810,572.2 811.1,571.9 812.6,572 813.6,572.5 814.5,573.2 815,574.2 815.1,575.3 814.8,576.2 814,577.2 812.6,578 811.1,578.1 809.6,577.5 808.7,576.8 808.2,575.8 808.2,574.2 808.7,573.2ZM830.3,645.8 831.6,645.3 833.1,645.8 834.1,646.9 834.7,648.2 834.8,650.2 834.5,651.8 833.6,653.2 832.9,653.8 832.1,654.1 831.1,654 829.9,653.2 829.1,652.2 828.7,650.8 828.6,649.2 828.9,647.8 829.6,646.4ZM850.2,654.8 852.6,654.8 854.6,655.6 856.1,657.1 856.9,659.2 857,661.2 856.7,662.2 856.1,663.6 854.6,665.1 852.6,666 851.6,666.2 850.1,666 848.2,665.2 846.6,663.8 845.7,661.8 845.6,660.8 845.7,659.2 846.5,657.2 848.1,655.6ZM800.2,657.2 802.1,657.3 804,658.2 805.4,659.8 806.4,661.8 806.7,663.8 806.4,665.8 805.6,667.2 804.1,668.2 803.1,668.3 802.1,668.2 800.1,667.3 798.7,665.8 797.7,663.8 797.3,661.8 797.6,659.8 798.6,658.2 799.6,657.5ZM907.1,672.2 909.1,672 910.4,672.2 911.6,672.8 913.6,674.4 915,676.8 915.6,679.2 915.3,681.8 914.3,683.8 913.6,684.4 912.6,685 910.6,685.3 909.6,685.1 908.1,684.5 906.1,683 904.5,680.8 903.8,678.2 904,675.8 904.3,674.8 905.1,673.6 906.1,672.8ZM889.4,718.8 891.6,718.6 893.6,719.2 895.1,720.4 896.2,722.2 896.6,724.2 896.3,726.2 895.5,727.8 893.8,729.2 892.6,729.8 891.6,730 889.1,729.8 886.6,728.8 882.1,726.6 879.6,725.8 879,725.2 878.8,724.2 879,723.8 879.5,723.2 881.6,722.5 887.1,719.5ZM819.9,726.8 822.1,726.6 824.1,727.1 825.7,728.2 826.8,729.8 827.3,731.8 827,733.8 826.5,734.8 825.7,735.8 824.1,736.9 823.1,737.2 821.6,737.3 819.6,736.7 818.6,736.1 817.6,735.2 816.5,733.8 815.7,732.2 815.3,730.2 815.7,728.7 817.1,727.6Z"/>
<path fill="#ffcc00" d="M606.6,396.8 608.1,396.7 609.1,397 610.1,397.8 610.7,398.8 610.9,400.2 610.6,401.2 610,402.3 608.6,403.1 607.1,403.3 606.1,403.1 604.8,402.2 604.1,401.1 603.9,399.8 604.5,398.2 605.5,397.2ZM715,432.8 716.6,432.5 717.6,432.6 718.6,433 719.4,433.8 719.9,434.8 719.9,435.8 719.8,436.8 719.2,438.2 718.2,439.8 717.2,440.8 716,441.8 714.6,442.6 712.1,443.4 710.6,443.4 709.6,443.1 708.6,442.2 708.1,441 708.2,439.2 708.8,437.8 710.1,435.9 711.6,434.5 713.1,433.5ZM565.3,443.2 566.6,443 568.1,443.4 569.2,444.2 570,445.8 570.1,447.2 569.6,448.7 568.7,449.8 567.6,450.3 566.1,450.4 565.1,450 564.1,449.2 563.2,447.8 563,446.2 563.3,445.2 564.1,444ZM653.5,475.2 655.1,474.9 656.1,475.1 656.6,475.4 657.1,476.1 657.3,476.8 657,478.8 656,480.8 654.1,482.6 652.1,483.5 650.6,483.4 649.8,482.8 649.4,481.8 649.3,480.8 649.6,479.6 650.2,478.2 651.1,477.1 652.1,476.1ZM849.9,657.2 851.1,657 852.6,657.2 853.6,657.8 854.6,659.2 854.7,660.8 854.5,661.8 853.8,662.8 852.6,663.6 851.6,663.8 850.1,663.6 848.8,662.8 848.1,661.8 847.9,660.8 848,659.2 848.6,658.2ZM800.7,660.7 801.1,660.5 802.1,660.5 803.1,661.1 803.6,661.8 803.9,662.8 803.9,663.8 803.6,664.4 803.1,664.9 802.6,665 801.6,664.8 800.5,663.8 800,662.2 800.3,661.2ZM907.9,674.8 909.1,674.5 910.6,674.9 911.8,675.8 912.9,677.2 913.3,678.8 913.2,680.2 912.6,681.5 911.6,682.4 910.1,682.7 908.7,682.2 907.6,681.5 906.6,680.1 906,678.2 906.2,676.8 906.7,675.8ZM890.3,722.8 891.1,722.7 891.6,722.9 892.3,723.8 892.3,724.8 892.1,725.2 891.4,725.8 890.6,725.9 890.1,725.7 889.5,725.2 889.2,724.7 889.3,723.8 889.6,723.2Z"/>
<path fill="#ff6600" d="M714.9,434.8 716.1,434.7 717.2,435.2 717.5,435.8 717.6,436.8 717.1,438.2 715.9,439.8 714.1,440.9 712.6,441.3 711.6,441.2 711.1,441 710.6,440.4 710.4,439.8 710.5,438.8 710.9,437.8 711.6,436.8 712.6,435.8 713.6,435.2Z"/>
</g>
<g id="grid" stroke="#9c9c9c" stroke-width="1" fill="none">
<line x1="301.10" y1="811.60" x2="301.10" y2="79.25" stroke-dasharray="2.2 7.333"/>
<line x1="358.93" y1="811.60" x2="358.93" y2="79.25" stroke-dasharray="2.2 7.333"/>
<line x1="416.76" y1="811.60" x2="416.76" y2="79.25" stroke-dasharray="2.2 7.333"/>
<line x1="474.59" y1="811.60" x2="474.59" y2="79.25" stroke-dasharray="2.2 7.333"/>
<line x1="532.42" y1="811.60" x2="532.42" y2="79.25" stroke-dasharray="2.2 7.333"/>
<line x1="590.25" y1="811.60" x2="590.25" y2="79.25" stroke-dasharray="2.2 7.333"/>
<line x1="648.08" y1="811.60" x2="648.08" y2="79.25" stroke-dasharray="2.2 7.333"/>
<line x1="705.91" y1="811.60" x2="705.91" y2="79.25" stroke-dasharray="2.2 7.333"/>
<line x1="763.74" y1="811.60" x2="763.74" y2="79.25" stroke-dasharray="2.2 7.333"/>
<line x1="821.57" y1="811.60" x2="821.57" y2="79.25" stroke-dasharray="2.2 7.333"/>
<line x1="879.40" y1="811.60" x2="879.40" y2="79.25" stroke-dasharray="2.2 7.333"/>
<line x1="271.65" y1="124.40" x2="937.40" y2="124.40" stroke-dasharray="2.1 7.73"/>
<line x1="271.65" y1="191.74" x2="937.40" y2="191.74" stroke-dasharray="2.1 7.73"/>
<line x1="271.65" y1="259.08" x2="937.40" y2="259.08" stroke-dasharray="2.1 7.73"/>
<line x1="271.65" y1="326.42" x2="937.40" y2="326.42" stroke-dasharray="2.1 7.73"/>
<line x1="271.65" y1="393.76" x2="937.40" y2="393.76" stroke-dasharray="2.1 7.73"/>
<line x1="271.65" y1="461.10" x2="937.40" y2="461.10" stroke-dasharray="2.1 7.73"/>
<line x1="271.65" y1="528.44" x2="937.40" y2="528.44" stroke-dasharray="2.1 7.73"/>
<line x1="271.65" y1="595.78" x2="937.40" y2="595.78" stroke-dasharray="2.1 7.73"/>
<line x1="271.65" y1="663.12" x2="937.40" y2="663.12" stroke-dasharray="2.1 7.73"/>
<line x1="271.65" y1="730.46" x2="937.40" y2="730.46" stroke-dasharray="2.1 7.73"/>
<line x1="271.65" y1="797.80" x2="937.40" y2="797.80" stroke-dasharray="2.1 7.73"/>
</g>
<g id="map" stroke="#000" stroke-width="1.08" fill="none" stroke-linejoin="round">
<polyline points="278,79.2 287.5,95 295,102 301.2,113.8 303.8,121.8 322,129.5 325.8,138.8 317.5,135.8 310.8,141.2 317.5,147.5 322.5,155.8 317.5,163.8 307,161.8 298.8,165.5 291.8,159.5 278,171.2 295,179.2 308.8,191.5 318.8,189.5 325,195 327.5,207.5 327.5,220 324.2,233.2 332.5,229.5 329.5,239.5 321.2,243 313.8,249.2 303.8,251.8 300.5,262 305.5,270.8 301.2,278.2 293.8,285 288,293.2 293.8,301.2 291.2,313.8 293.8,326.2 298.8,335 305.5,353.8 330.8,393 348,400.8 360,400.8 380,404.5 388.8,408.8 403,420.5 428.8,461.2 437.5,465 444.5,445 452.5,440.8 454.5,429.2 464.5,431.2 475,413.8 481.8,409.5 471.8,411.2 468.8,400 468.8,385 456.2,385 449.5,379.2 438.8,377 430.5,373.8 420,357.5 411.2,351.2 407,315 399.2,309.2 406.2,313.8 417,331.2 425,335.5 435.5,333.2 441.2,341.2 450.8,343.2 456.2,351.2 465,355.8 470,363 481.2,370.5 497.5,375.8 488.8,379.5 498.8,377 506.2,383.8 508,395.5 515,401.2 525,417 525,431.2 520,440 518,451.2 525,457.5 530,465 537,470.5 543.7,479.2 554.2,477 563.3,480 573.3,483.3 591.7,486.7 610.8,495 620.8,511.2 630,512.8 648.3,521.7 658.3,524.7 672.5,537.5 677.5,545 686.7,549.2 692.5,555 698.8,563.8 705.5,570 710,578.8 716.2,585 722.5,594.5 725.5,603 722,613 723.2,623.8 728.8,632.5 716.8,646.2 727.5,644.5 718.8,648 716.8,660.8 702.5,673.2 699.5,682.5 708.9,696.8 719.9,707.3 728.2,717.6 737.5,722.5 749,720.5 783.9,736.7 789.3,729.1 789.3,715.2 786,704.7 784,703.3 778.7,696 762.7,688.7 758.7,682 751.3,660 773.3,656.3 784,672.7 801.3,680.7 810.7,682.7 818,688.5 806.7,688.8 811,696.3 821.3,698.7 812.7,702 818,711.3 820.7,722.7 816,732.7 814.4,742 821.3,749.3 827.5,754.5 836.5,759 844,765 854,780 860.5,799 860.5,814.5 867.5,814.5 869.5,802.5 866,792 865.8,778 867.5,766.5 872.5,758.5 890,750.5 900,748.5 910.5,750.8 920.5,753 929.5,756.8 937.5,758.5"/>
<polyline points="926.2,469.5 920.5,470.5 917.5,481.2 908.8,485 895,473 890,465.5 881.2,461.2 871.2,463 865.8,471.2 872.5,483 872.5,485 867,485 858.8,489.5 853.8,497.5 853.8,582 858.7,583.3 868,586.7 875.3,590.7 880.7,596.7 888,601 895,609 892,619 884,625 872,631 867,635 863.3,640.7 857.5,649.5 860,658 864,664.7 870.7,674 873.5,686 874.7,696.7 874.8,711.3 869.5,718.7 861.3,726 852,728.7 847.3,736 840,742 832,746.3 838.5,754 845.5,760 854,764 856,777 862.5,796.5 862.8,809 861,814.5"/>
<polyline points="673.8,79.2 675,92.5 677.5,107.5 682.5,122.5 690,137.5 699.5,152.5 703,163.8 712.5,161.8 717,163.8 722.5,173 728.8,191.5 723.8,184 723.8,198.8 720.5,207 728.2,203.8 734.5,212.5 735.8,223.8 742,242.5 747.5,251.2 751.2,261.2 756.2,270 759.5,278.8 768,292.5 785,319.5 792.5,326.2 817.5,365 824.5,371.2 835,369.5 838.2,378.8 869.2,427 877.5,431.2 881.2,440.8 886.8,449.2 895,453 915,457 920.5,465.5 926.2,469.5 937.5,478.2"/>
<polyline points="322,129.5 325,121.2 330,112.5 335,101.8 344.5,99.8 350,104.2 358.8,111.2 366.2,115 386.2,119.2 400,126.2 473.2,159.2 481.2,155.8 496.2,143.8 502.5,141.2 511.2,133.8 519.5,129.5 526.2,135.5 538.8,135.5 545,141.2 550,143.8 553.8,145.8 560.5,153.8 569.5,157.5 579.5,147.5 583.8,158.8 588,165.5 605,173 608.8,183.8 610.8,195.5 622.5,195.5 630.8,199.5 639.5,195.5 648.2,200 661.8,211.5 671.2,209.5 680.5,205.5 689.5,199.5 699.2,197.5 707.5,193.8 715,187.5 712.5,163"/>
<polyline points="326.2,79.2 333.8,85.5 350,93.8 355,101.8 362.5,106.2 372.5,110 385,112.5 393.8,114.5 401.2,118 408.8,123.8 420,125.5 430,125.5 440,127.5 457.5,135.5 470,135.5 478.8,139.5 487.5,138 493.8,133.8 498.8,123.8 497.5,115 499.2,97.5 496.2,87.5 490.8,79.2"/>
<polyline points="450,101.2 456.2,109.2 447.5,113.8 450,101.2"/>
<polyline points="422.5,343.2 433.8,345.5 437,353 427.5,355.5 420.5,348.8 422.5,343.2"/>
</g>
</g>
<rect x="262.6" y="79.25" width="674.8" height="741.2" fill="none" stroke="#000" stroke-width="1.5" stroke-linejoin="round"/>
<g stroke="#000" stroke-width="1.3">
<line x1="301.10" y1="820.5" x2="301.10" y2="825.9"/>
<line x1="358.93" y1="820.5" x2="358.93" y2="825.9"/>
<line x1="416.76" y1="820.5" x2="416.76" y2="825.9"/>
<line x1="474.59" y1="820.5" x2="474.59" y2="825.9"/>
<line x1="532.42" y1="820.5" x2="532.42" y2="825.9"/>
<line x1="590.25" y1="820.5" x2="590.25" y2="825.9"/>
<line x1="648.08" y1="820.5" x2="648.08" y2="825.9"/>
<line x1="705.91" y1="820.5" x2="705.91" y2="825.9"/>
<line x1="763.74" y1="820.5" x2="763.74" y2="825.9"/>
<line x1="821.57" y1="820.5" x2="821.57" y2="825.9"/>
<line x1="879.40" y1="820.5" x2="879.40" y2="825.9"/>
<line x1="257.0" y1="124.40" x2="262.6" y2="124.40"/>
<line x1="257.0" y1="191.74" x2="262.6" y2="191.74"/>
<line x1="257.0" y1="259.08" x2="262.6" y2="259.08"/>
<line x1="257.0" y1="326.42" x2="262.6" y2="326.42"/>
<line x1="257.0" y1="393.76" x2="262.6" y2="393.76"/>
<line x1="257.0" y1="461.10" x2="262.6" y2="461.10"/>
<line x1="257.0" y1="528.44" x2="262.6" y2="528.44"/>
<line x1="257.0" y1="595.78" x2="262.6" y2="595.78"/>
<line x1="257.0" y1="663.12" x2="262.6" y2="663.12"/>
<line x1="257.0" y1="730.46" x2="262.6" y2="730.46"/>
<line x1="257.0" y1="797.80" x2="262.6" y2="797.80"/>
</g>
<text class="ax" x="278.11" y="840.7" textLength="44.57" lengthAdjust="spacingAndGlyphs">85.8W</text>
<text class="ax" x="335.94" y="840.7" textLength="44.57" lengthAdjust="spacingAndGlyphs">85.5W</text>
<text class="ax" x="393.77" y="840.7" textLength="44.57" lengthAdjust="spacingAndGlyphs">85.2W</text>
<text class="ax" x="451.60" y="840.7" textLength="44.57" lengthAdjust="spacingAndGlyphs">84.9W</text>
<text class="ax" x="509.43" y="840.7" textLength="44.57" lengthAdjust="spacingAndGlyphs">84.6W</text>
<text class="ax" x="567.26" y="840.7" textLength="44.57" lengthAdjust="spacingAndGlyphs">84.3W</text>
<text class="ax" x="632.79" y="840.7" textLength="29.23" lengthAdjust="spacingAndGlyphs">84W</text>
<text class="ax" x="682.92" y="840.7" textLength="44.57" lengthAdjust="spacingAndGlyphs">83.7W</text>
<text class="ax" x="740.75" y="840.7" textLength="44.57" lengthAdjust="spacingAndGlyphs">83.4W</text>
<text class="ax" x="798.58" y="840.7" textLength="44.57" lengthAdjust="spacingAndGlyphs">83.1W</text>
<text class="ax" x="856.41" y="840.7" textLength="44.57" lengthAdjust="spacingAndGlyphs">82.8W</text>
<text class="ax" x="209.63" y="130.3" textLength="44.00" lengthAdjust="spacingAndGlyphs">11.1N</text>
<text class="ax" x="209.67" y="197.6" textLength="43.91" lengthAdjust="spacingAndGlyphs">10.8N</text>
<text class="ax" x="209.67" y="265.0" textLength="43.91" lengthAdjust="spacingAndGlyphs">10.5N</text>
<text class="ax" x="209.67" y="332.3" textLength="43.91" lengthAdjust="spacingAndGlyphs">10.2N</text>
<text class="ax" x="218.04" y="399.7" textLength="35.54" lengthAdjust="spacingAndGlyphs">9.9N</text>
<text class="ax" x="218.04" y="467.0" textLength="35.54" lengthAdjust="spacingAndGlyphs">9.6N</text>
<text class="ax" x="218.04" y="534.3" textLength="35.54" lengthAdjust="spacingAndGlyphs">9.3N</text>
<text class="ax" x="232.87" y="601.7" textLength="20.68" lengthAdjust="spacingAndGlyphs">9N</text>
<text class="ax" x="218.04" y="669.0" textLength="35.54" lengthAdjust="spacingAndGlyphs">8.7N</text>
<text class="ax" x="218.04" y="736.4" textLength="35.54" lengthAdjust="spacingAndGlyphs">8.4N</text>
<text class="ax" x="218.04" y="803.7" textLength="35.54" lengthAdjust="spacingAndGlyphs">8.1N</text>
<g stroke="#000" stroke-width="1.3" stroke-linejoin="miter" stroke-miterlimit="10">
<polygon points="1058.0,132.2 1068.8,91.9 1079.7,132.2" fill="#aaaaaa"/>
<rect x="1058.0" y="132.20" width="21.7" height="42.35" fill="#f5f5f5"/>
<rect x="1058.0" y="174.55" width="21.7" height="42.35" fill="#9932cc"/>
<rect x="1058.0" y="216.90" width="21.7" height="42.35" fill="#ff00ff"/>
<rect x="1058.0" y="259.25" width="21.7" height="42.35" fill="#990000"/>
<rect x="1058.0" y="301.60" width="21.7" height="42.35" fill="#cc3300"/>
<rect x="1058.0" y="343.95" width="21.7" height="42.35" fill="#ff0000"/>
<rect x="1058.0" y="386.30" width="21.7" height="42.35" fill="#ff6600"/>
<rect x="1058.0" y="428.65" width="21.7" height="42.35" fill="#ffcc00"/>
<rect x="1058.0" y="471.00" width="21.7" height="42.35" fill="#ffff00"/>
<rect x="1058.0" y="513.35" width="21.7" height="42.35" fill="#009900"/>
<rect x="1058.0" y="555.70" width="21.7" height="42.35" fill="#00cc00"/>
<rect x="1058.0" y="598.05" width="21.7" height="42.35" fill="#00ff00"/>
<rect x="1058.0" y="640.40" width="21.7" height="42.35" fill="#0000ff"/>
<rect x="1058.0" y="682.75" width="21.7" height="42.35" fill="#3399ff"/>
<rect x="1058.0" y="725.10" width="21.7" height="42.35" fill="#66ffff"/>
<polygon points="1058.0,767.5 1068.8,807.4 1079.7,767.5" fill="#ffffff"/>
</g>
<text class="cb" x="1085.36" y="139.5" textLength="38.02" lengthAdjust="spacingAndGlyphs">200</text>
<text class="cb" x="1084.76" y="181.8" textLength="38.63" lengthAdjust="spacingAndGlyphs">150</text>
<text class="cb" x="1084.76" y="224.2" textLength="38.63" lengthAdjust="spacingAndGlyphs">120</text>
<text class="cb" x="1084.76" y="266.6" textLength="38.63" lengthAdjust="spacingAndGlyphs">100</text>
<text class="cb" x="1085.57" y="308.9" textLength="25.49" lengthAdjust="spacingAndGlyphs">90</text>
<text class="cb" x="1085.44" y="351.2" textLength="25.74" lengthAdjust="spacingAndGlyphs">75</text>
<text class="cb" x="1085.45" y="393.6" textLength="25.61" lengthAdjust="spacingAndGlyphs">60</text>
<text class="cb" x="1085.69" y="435.9" textLength="25.36" lengthAdjust="spacingAndGlyphs">50</text>
<text class="cb" x="1086.15" y="478.3" textLength="24.88" lengthAdjust="spacingAndGlyphs">40</text>
<text class="cb" x="1085.69" y="520.6" textLength="25.36" lengthAdjust="spacingAndGlyphs">30</text>
<text class="cb" x="1085.44" y="563.0" textLength="25.74" lengthAdjust="spacingAndGlyphs">25</text>
<text class="cb" x="1085.45" y="605.3" textLength="25.61" lengthAdjust="spacingAndGlyphs">20</text>
<text class="cb" x="1084.82" y="647.7" textLength="26.38" lengthAdjust="spacingAndGlyphs">15</text>
<text class="cb" x="1085.26" y="690.0" textLength="45.10" lengthAdjust="spacingAndGlyphs">12.5</text>
<text class="cb" x="1086.99" y="732.4" textLength="11.25" lengthAdjust="spacingAndGlyphs">7</text>
<text class="cb" x="1085.99" y="774.8" textLength="31.52" lengthAdjust="spacingAndGlyphs">3.5</text>
<text class="ti thin" x="130.09" y="30.1" textLength="263.46" lengthAdjust="spacingAndGlyphs">IMN/SARAPIQUI_5</text>
<text class="ti thin" x="408.67" y="30.1" textLength="193.91" lengthAdjust="spacingAndGlyphs">Precipitacion</text>
<text class="ti thin" x="617.43" y="30.1" textLength="162.61" lengthAdjust="spacingAndGlyphs">Acumulada</text>
<text class="ti thin" x="795.95" y="30.1" textLength="36.65" lengthAdjust="spacingAndGlyphs">en</text>
<text class="ti thin" x="848.05" y="30.1" textLength="21.12" lengthAdjust="spacingAndGlyphs">6</text>
<text class="ti thin" x="883.99" y="30.1" textLength="85.06" lengthAdjust="spacingAndGlyphs">horas</text>
<text class="ti thin" x="984.64" y="30.1" textLength="85.86" lengthAdjust="spacingAndGlyphs">(mm)</text>
<text class="ti thin" x="462.7 481.7 500.2 518.7" y="62.0">2025</text>
<text class="ti thin" x="537.81" y="60.6" textLength="24.85" lengthAdjust="spacingAndGlyphs">-</text>
<text class="ti thin" x="559.6 582.1" y="62.0">12</text>
<text class="ti thin" x="600.81" y="60.6" textLength="24.85" lengthAdjust="spacingAndGlyphs">-</text>
<text class="ti thin" x="622.1 645.4" y="62.0">10</text>
<text class="ti thin" x="681.7 700.4 718.4" y="62.0">00Z</text>
<text class="ft" x="327.00" y="877.0" textLength="103.87" lengthAdjust="spacingAndGlyphs">Instituto</text>
<text class="ft" x="443.46" y="877.0" textLength="177.49" lengthAdjust="spacingAndGlyphs">Meteorologico</text>
<text class="ft" x="634.49" y="877.0" textLength="108.52" lengthAdjust="spacingAndGlyphs">Nacional</text>
<text class="ft" x="758.86" y="877.0" textLength="71.44" lengthAdjust="spacingAndGlyphs">Costa</text>
<text class="ft" x="844.21" y="877.0" textLength="56.19" lengthAdjust="spacingAndGlyphs">Rica</text>
</svg>
</body></html>
